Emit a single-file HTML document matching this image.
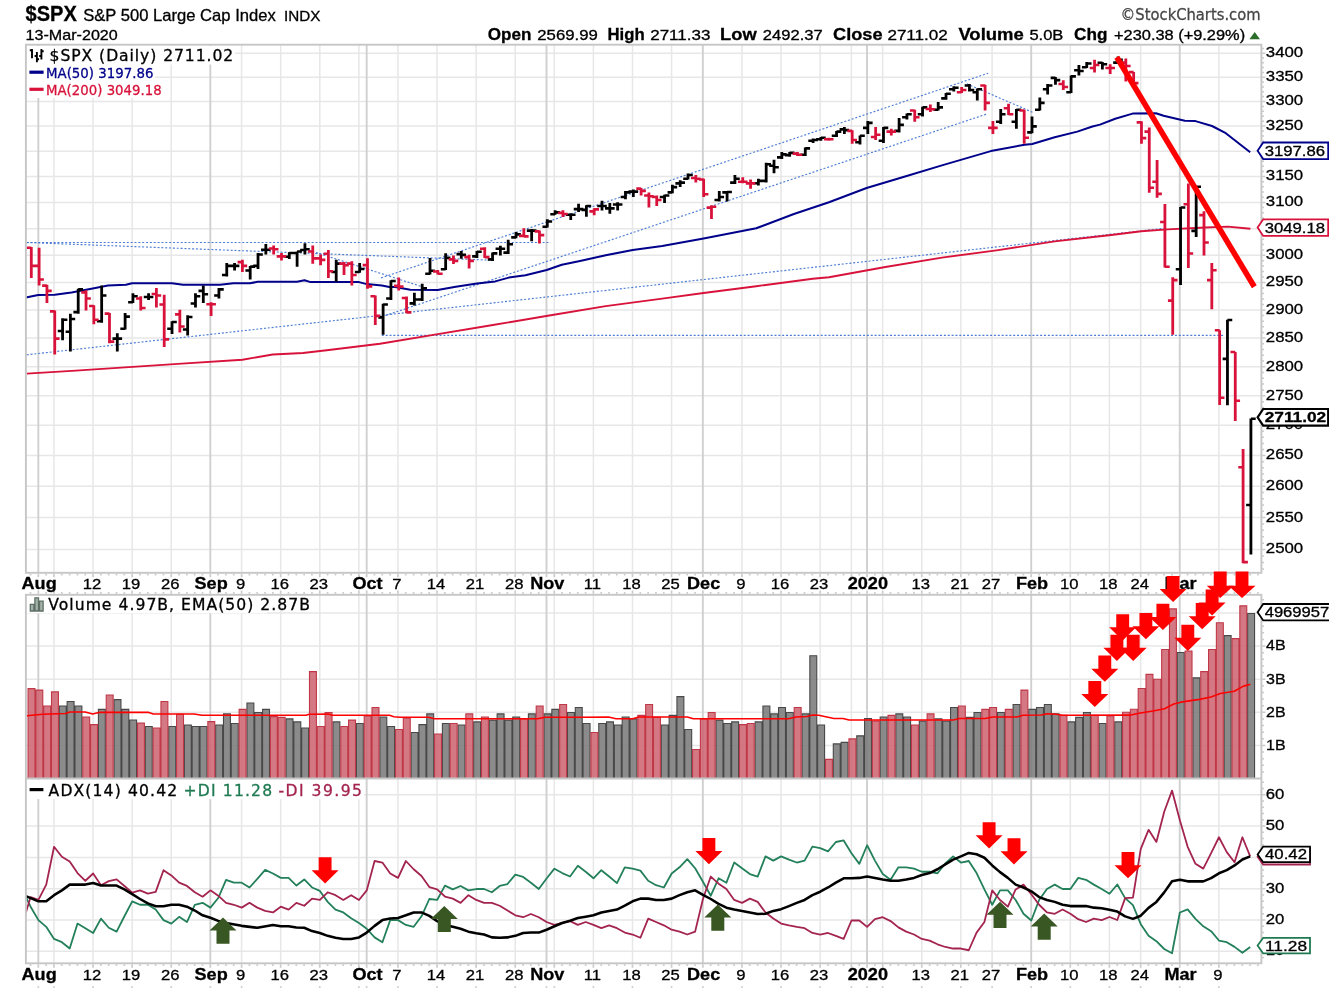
<!DOCTYPE html>
<html lang="en"><head><meta charset="utf-8"><title>$SPX S&amp;P 500 Large Cap Index - StockCharts.com</title>
<style>html,body{margin:0;padding:0;background:#fff}body{width:1329px;height:990px;overflow:hidden}svg{display:block}</style>
</head><body>
<svg width="1329" height="990" viewBox="0 0 1329 990" style="display:block">
<rect width="1329" height="990" fill="#fff"/>
<path d="M25.9 549.58H1261.4M25.9 517.62H1261.4M25.9 486.28H1261.4M25.9 455.53H1261.4M25.9 425.37H1261.4M25.9 395.75H1261.4M25.9 366.67H1261.4M25.9 338.1H1261.4M25.9 310.03H1261.4M25.9 282.44H1261.4M25.9 255.31H1261.4M25.9 228.64H1261.4M25.9 202.39H1261.4M25.9 176.57H1261.4M25.9 151.15H1261.4M25.9 126.12H1261.4M25.9 101.48H1261.4M25.9 77.21H1261.4M25.9 53.3H1261.4" stroke="#e7e7e7" stroke-width="1.5" fill="none"/>
<path d="M53.95 44.7V572.8M93.04 44.7V572.8M132.13 44.7V572.8M171.22 44.7V572.8M241.59 44.7V572.8M280.68 44.7V572.8M319.77 44.7V572.8M358.86 44.7V572.8M397.95 44.7V572.8M437.04 44.7V572.8M476.13 44.7V572.8M515.22 44.7V572.8M554.31 44.7V572.8M593.4 44.7V572.8M632.49 44.7V572.8M671.58 44.7V572.8M741.94 44.7V572.8M781.03 44.7V572.8M820.12 44.7V572.8M851.39 44.7V572.8M882.66 44.7V572.8M921.75 44.7V572.8M960.84 44.7V572.8M992.11 44.7V572.8M1070.29 44.7V572.8M1109.38 44.7V572.8M1140.66 44.7V572.8M1218.84 44.7V572.8" stroke="#e7e7e7" stroke-width="1.5" fill="none"/>
<path d="M38.32 44.7V572.8M210.31 44.7V572.8M366.67 44.7V572.8M546.49 44.7V572.8M702.85 44.7V572.8M867.03 44.7V572.8M1031.2 44.7V572.8M1179.75 44.7V572.8" stroke="#d0d0d0" stroke-width="1.9" fill="none"/>
<rect x="27" y="46" width="208" height="18.5" fill="#fff"/>
<rect x="27" y="64" width="128" height="17" fill="#fff"/>
<rect x="27" y="81" width="136" height="17" fill="#fff"/>
<line x1="26.7" y1="242.5" x2="550.5" y2="242.5" stroke="#3a6fd0" stroke-width="1.15" stroke-dasharray="2 1.85" stroke-opacity="0.9"/>
<line x1="26.7" y1="242.5" x2="494" y2="260.3" stroke="#3a6fd0" stroke-width="1.15" stroke-dasharray="2 1.85" stroke-opacity="0.9"/>
<line x1="26.7" y1="354.8" x2="1163.5" y2="228.4" stroke="#3a6fd0" stroke-width="1.15" stroke-dasharray="2 1.85" stroke-opacity="0.9"/>
<line x1="305" y1="249" x2="423" y2="287" stroke="#3a6fd0" stroke-width="1.15" stroke-dasharray="2 1.85" stroke-opacity="0.9"/>
<line x1="381" y1="277.9" x2="988.2" y2="73.2" stroke="#3a6fd0" stroke-width="1.15" stroke-dasharray="2 1.85" stroke-opacity="0.9"/>
<line x1="381.8" y1="316.7" x2="987.4" y2="113.8" stroke="#3a6fd0" stroke-width="1.15" stroke-dasharray="2 1.85" stroke-opacity="0.9"/>
<line x1="381.8" y1="335.4" x2="1223.7" y2="335.4" stroke="#3a6fd0" stroke-width="1.15" stroke-dasharray="2 1.85" stroke-opacity="0.9"/>
<line x1="967" y1="83.9" x2="1033.6" y2="112.7" stroke="#3a6fd0" stroke-width="1.15" stroke-dasharray="2 1.85" stroke-opacity="0.9"/>
<polyline points="26.7,373.6 75.8,370.6 121.2,367.6 181.8,363.6 242.4,359.7 272.7,354.5 303,353 328.8,350 363.6,345.8 380,343.8 436.4,334.4 492.9,325 549.3,315.5 605.7,306.1 662.2,298.6 703.6,293 756.2,286.2 812.7,278.7 829,277.3 885.4,267 941.9,257.6 998.3,250.1 1054.7,241.4 1111.2,235 1141.3,231.3 1167.6,229.4 1205.2,227.5 1227.8,226.6 1250.4,228.7" fill="none" stroke="#d8123a" stroke-width="1.9" stroke-linejoin="round"/>
<polyline points="26,297.4 38.2,295 54.8,294.7 71.5,292.4 92.7,288.6 107.9,285.6 126,284.8 132,283.3 172,283.3 183,284.8 220,284.8 233.3,283.3 250,283.3 257.6,281.8 297,281.8 304.5,280.3 310.6,282.1 359,282.1 366.7,284.1 381.8,285.6 389.4,287.1 395.2,287 410.3,289.7 437.6,290 455.8,286.7 477,283.6 495.2,281.4 508.8,277.6 525.5,275.3 546.7,270 561.8,264.7 580,260.9 605.7,255.3 632.7,250 662.2,245.9 703.6,238.4 756.2,228.3 793.9,214 829,202.3 866.6,188 904.2,176.7 941.9,165.4 990.8,151.1 1024.6,144.7 1032.2,144 1054.7,137.2 1077.3,131.6 1092.4,126.5 1100,124.6 1115.2,118.8 1132.6,113.6 1156,113.2 1163.6,115.8 1184.8,120.8 1195.5,121.1 1212,126 1225.8,133.2 1250.2,152.2" fill="none" stroke="#00008b" stroke-width="2.0" stroke-linejoin="round"/>
<path d="M61.17 318.18h2.8V340.15h-2.8zM57.77 329.76h4.8v2.6h-4.8zM62.57 318.4h4.8v2.6h-4.8zM68.99 313.64h2.8V351.52h-2.8zM65.59 330.52h4.8v2.6h-4.8zM70.39 317.64h4.8v2.6h-4.8zM76.81 288.64h2.8V313.64h-2.8zM73.41 310.82h4.8v2.6h-4.8zM78.21 288.09h4.8v2.6h-4.8zM100.26 285.61h2.8V322.73h-2.8zM96.86 319.91h4.8v2.6h-4.8zM101.66 294.15h4.8v2.6h-4.8zM115.9 333.33h2.8V351.52h-2.8zM112.5 337.34h4.8v2.6h-4.8zM117.3 337.34h4.8v2.6h-4.8zM123.72 312.88h2.8V329.55h-2.8zM120.32 327.49h4.8v2.6h-4.8zM125.12 315.37h4.8v2.6h-4.8zM131.53 293.18h2.8V303.03h-2.8zM128.13 300.97h4.8v2.6h-4.8zM132.93 294.91h4.8v2.6h-4.8zM147.17 293.18h2.8V300h-2.8zM143.77 295.67h4.8v2.6h-4.8zM148.57 295.67h4.8v2.6h-4.8zM170.62 321.21h2.8V334.09h-2.8zM167.22 327.49h4.8v2.6h-4.8zM172.02 320.67h4.8v2.6h-4.8zM186.26 315.15h2.8V335.61h-2.8zM182.86 328.25h4.8v2.6h-4.8zM187.66 315.67h4.8v2.6h-4.8zM194.08 293.18h2.8V307.58h-2.8zM190.68 302.18h4.8v2.6h-4.8zM195.48 294.91h4.8v2.6h-4.8zM201.9 285.61h2.8V303.03h-2.8zM198.5 289.61h4.8v2.6h-4.8zM203.3 292.94h4.8v2.6h-4.8zM217.53 287.88h2.8V298.48h-2.8zM214.13 294.15h4.8v2.6h-4.8zM218.93 288.09h4.8v2.6h-4.8zM225.35 262.88h2.8V276.52h-2.8zM221.95 273.7h4.8v2.6h-4.8zM226.75 264.61h4.8v2.6h-4.8zM233.17 262.88h2.8V270.45h-2.8zM229.77 264.61h4.8v2.6h-4.8zM234.57 264.61h4.8v2.6h-4.8zM248.8 265.91h2.8V279.55h-2.8zM245.4 269.15h4.8v2.6h-4.8zM250.2 265.37h4.8v2.6h-4.8zM256.62 253.03h2.8V268.94h-2.8zM253.22 264.61h4.8v2.6h-4.8zM258.02 253.25h4.8v2.6h-4.8zM264.44 243.94h2.8V254.55h-2.8zM261.04 248.4h4.8v2.6h-4.8zM265.84 248.4h4.8v2.6h-4.8zM287.89 252.27h2.8V259.09h-2.8zM284.49 255.52h4.8v2.6h-4.8zM289.29 251.73h4.8v2.6h-4.8zM295.71 251.52h2.8V266.67h-2.8zM292.31 251.73h4.8v2.6h-4.8zM297.11 250.22h4.8v2.6h-4.8zM303.53 243.18h2.8V254.55h-2.8zM300.13 248.7h4.8v2.6h-4.8zM304.93 247.94h4.8v2.6h-4.8zM334.8 259.85h2.8V281.82h-2.8zM331.4 270.67h4.8v2.6h-4.8zM336.2 262.34h4.8v2.6h-4.8zM358.26 262.88h2.8V272.73h-2.8zM354.86 270.67h4.8v2.6h-4.8zM359.66 267.64h4.8v2.6h-4.8zM381.71 303.79h2.8V334.85h-2.8zM378.31 316.12h4.8v2.6h-4.8zM383.11 303.25h4.8v2.6h-4.8zM389.53 280.3h2.8V300h-2.8zM386.13 297.18h4.8v2.6h-4.8zM390.93 279.76h4.8v2.6h-4.8zM412.98 292.73h2.8V305.61h-2.8zM409.58 302.03h4.8v2.6h-4.8zM414.38 298.25h4.8v2.6h-4.8zM420.8 283.64h2.8V301.06h-2.8zM417.4 298.25h4.8v2.6h-4.8zM422.2 286.88h4.8v2.6h-4.8zM428.62 257.88h2.8V274.55h-2.8zM425.22 272.49h4.8v2.6h-4.8zM430.02 269.46h4.8v2.6h-4.8zM444.25 253.33h2.8V270h-2.8zM440.85 267.94h4.8v2.6h-4.8zM445.65 256.58h4.8v2.6h-4.8zM459.89 251.06h2.8V258.64h-2.8zM456.49 252.79h4.8v2.6h-4.8zM461.29 253.55h4.8v2.6h-4.8zM475.53 251.06h2.8V257.88h-2.8zM472.13 255.06h4.8v2.6h-4.8zM476.93 250.52h4.8v2.6h-4.8zM491.16 252.58h2.8V260.91h-2.8zM487.76 258.09h4.8v2.6h-4.8zM492.56 252.03h4.8v2.6h-4.8zM498.98 245.76h2.8V255.61h-2.8zM495.58 247.49h4.8v2.6h-4.8zM500.38 247.49h4.8v2.6h-4.8zM506.8 239.7h2.8V254.09h-2.8zM503.4 251.28h4.8v2.6h-4.8zM508.2 242.94h4.8v2.6h-4.8zM514.62 232.12h2.8V238.18h-2.8zM511.22 236.12h4.8v2.6h-4.8zM516.02 233.09h4.8v2.6h-4.8zM530.25 229.09h2.8V241.21h-2.8zM526.85 229.31h4.8v2.6h-4.8zM531.65 229.31h4.8v2.6h-4.8zM545.89 219.24h2.8V227.58h-2.8zM542.49 225.52h4.8v2.6h-4.8zM547.29 220.22h4.8v2.6h-4.8zM553.71 210.15h2.8V214.7h-2.8zM550.31 212.94h4.8v2.6h-4.8zM555.11 211.12h4.8v2.6h-4.8zM569.34 213.18h2.8V220h-2.8zM565.94 213.4h4.8v2.6h-4.8zM570.74 213.4h4.8v2.6h-4.8zM577.16 203.79h2.8V212.12h-2.8zM573.76 207.79h4.8v2.6h-4.8zM578.56 207.79h4.8v2.6h-4.8zM584.98 205.3h2.8V216.67h-2.8zM581.58 208.55h4.8v2.6h-4.8zM586.38 204.76h4.8v2.6h-4.8zM600.61 200.76h2.8V210.61h-2.8zM597.21 204.76h4.8v2.6h-4.8zM602.01 204.76h4.8v2.6h-4.8zM608.43 203.03h2.8V213.64h-2.8zM605.03 207.03h4.8v2.6h-4.8zM609.83 207.03h4.8v2.6h-4.8zM616.25 202.27h2.8V210.61h-2.8zM612.85 203.25h4.8v2.6h-4.8zM617.65 203.25h4.8v2.6h-4.8zM624.07 190.91h2.8V199.24h-2.8zM620.67 195.67h4.8v2.6h-4.8zM625.47 191.12h4.8v2.6h-4.8zM631.89 189.39h2.8V196.97h-2.8zM628.49 190.37h4.8v2.6h-4.8zM633.29 190.37h4.8v2.6h-4.8zM663.16 194.7h2.8V203.03h-2.8zM659.76 195.67h4.8v2.6h-4.8zM664.56 194.15h4.8v2.6h-4.8zM670.98 184.85h2.8V193.18h-2.8zM667.58 191.12h4.8v2.6h-4.8zM672.38 185.82h4.8v2.6h-4.8zM678.79 180.3h2.8V187.12h-2.8zM675.39 182.03h4.8v2.6h-4.8zM680.19 181.28h4.8v2.6h-4.8zM686.61 173.48h2.8V179.55h-2.8zM683.21 177.49h4.8v2.6h-4.8zM688.01 173.7h4.8v2.6h-4.8zM717.88 190.91h2.8V201.52h-2.8zM714.48 198.7h4.8v2.6h-4.8zM719.28 195.67h4.8v2.6h-4.8zM725.7 190.91h2.8V201.52h-2.8zM722.3 191.12h4.8v2.6h-4.8zM727.1 190.67h4.8v2.6h-4.8zM733.52 175h2.8V184.09h-2.8zM730.12 181.28h4.8v2.6h-4.8zM734.92 177.49h4.8v2.6h-4.8zM756.97 178.64h2.8V185.45h-2.8zM753.57 181.88h4.8v2.6h-4.8zM758.37 179.61h4.8v2.6h-4.8zM764.79 162.73h2.8V182.42h-2.8zM761.39 179.61h4.8v2.6h-4.8zM766.19 162.94h4.8v2.6h-4.8zM772.61 159.7h2.8V173.33h-2.8zM769.21 164.46h4.8v2.6h-4.8zM774.01 165.97h4.8v2.6h-4.8zM780.43 152.12h2.8V158.94h-2.8zM777.03 156.12h4.8v2.6h-4.8zM781.83 153.09h4.8v2.6h-4.8zM788.25 152.12h2.8V156.67h-2.8zM784.85 153.85h4.8v2.6h-4.8zM789.65 151.58h4.8v2.6h-4.8zM803.88 147.58h2.8V155.91h-2.8zM800.48 153.4h4.8v2.6h-4.8zM805.28 147.03h4.8v2.6h-4.8zM811.7 138.48h2.8V143.03h-2.8zM808.3 139.46h4.8v2.6h-4.8zM813.1 138.7h4.8v2.6h-4.8zM819.52 136.97h2.8V140.76h-2.8zM816.12 137.94h4.8v2.6h-4.8zM820.92 136.43h4.8v2.6h-4.8zM835.15 130.91h2.8V136.97h-2.8zM831.75 134.46h4.8v2.6h-4.8zM836.55 130.37h4.8v2.6h-4.8zM842.97 127.12h2.8V133.94h-2.8zM839.57 128.09h4.8v2.6h-4.8zM844.37 128.85h4.8v2.6h-4.8zM858.61 135.45h2.8V144.55h-2.8zM855.21 140.97h4.8v2.6h-4.8zM860.01 134.46h4.8v2.6h-4.8zM866.43 121.06h2.8V133.94h-2.8zM863.03 126.58h4.8v2.6h-4.8zM867.83 121.58h4.8v2.6h-4.8zM882.06 127.12h2.8V143.03h-2.8zM878.66 139.46h4.8v2.6h-4.8zM883.46 126.58h4.8v2.6h-4.8zM897.7 118.03h2.8V132.42h-2.8zM894.3 129.61h4.8v2.6h-4.8zM899.1 123.55h4.8v2.6h-4.8zM905.52 113.48h2.8V119.55h-2.8zM902.12 115.97h4.8v2.6h-4.8zM906.92 112.94h4.8v2.6h-4.8zM921.15 106.67h2.8V116.52h-2.8zM917.75 112.94h4.8v2.6h-4.8zM922.55 106.12h4.8v2.6h-4.8zM936.79 102.12h2.8V110.45h-2.8zM933.39 108.4h4.8v2.6h-4.8zM938.19 106.12h4.8v2.6h-4.8zM944.61 93.03h2.8V99.85h-2.8zM941.21 97.03h4.8v2.6h-4.8zM946.01 92.49h4.8v2.6h-4.8zM952.42 86.21h2.8V91.52h-2.8zM949.02 87.94h4.8v2.6h-4.8zM953.82 86.43h4.8v2.6h-4.8zM968.06 83.94h2.8V91.52h-2.8zM964.66 84.15h4.8v2.6h-4.8zM969.46 88.7h4.8v2.6h-4.8zM975.88 88.48h2.8V100.61h-2.8zM972.48 90.97h4.8v2.6h-4.8zM977.28 87.94h4.8v2.6h-4.8zM999.33 108.94h2.8V124.09h-2.8zM995.93 120.52h4.8v2.6h-4.8zM1000.73 112.94h4.8v2.6h-4.8zM1014.97 108.94h2.8V128.64h-2.8zM1011.57 120.52h4.8v2.6h-4.8zM1016.37 108.4h4.8v2.6h-4.8zM1030.6 116.52h2.8V133.18h-2.8zM1027.2 131.12h4.8v2.6h-4.8zM1032 125.06h4.8v2.6h-4.8zM1038.42 97.58h2.8V110.45h-2.8zM1035.02 108.4h4.8v2.6h-4.8zM1039.82 101.58h4.8v2.6h-4.8zM1046.24 83.94h2.8V94.55h-2.8zM1042.84 87.94h4.8v2.6h-4.8zM1047.64 84.15h4.8v2.6h-4.8zM1054.06 77.12h2.8V84.7h-2.8zM1050.66 76.58h4.8v2.6h-4.8zM1055.46 78.85h4.8v2.6h-4.8zM1069.69 75.61h2.8V93.03h-2.8zM1066.29 90.97h4.8v2.6h-4.8zM1071.09 75.06h4.8v2.6h-4.8zM1077.51 65h2.8V75.61h-2.8zM1074.11 69h4.8v2.6h-4.8zM1078.91 69.76h4.8v2.6h-4.8zM1085.33 61.97h2.8V68.03h-2.8zM1081.93 65.97h4.8v2.6h-4.8zM1086.73 62.18h4.8v2.6h-4.8zM1100.97 61.97h2.8V69.55h-2.8zM1097.57 61.43h4.8v2.6h-4.8zM1102.37 62.94h4.8v2.6h-4.8zM1116.6 56.38h2.8V63.38h-2.8zM1113.2 61.34h4.8v2.6h-4.8zM1118 58.59h4.8v2.6h-4.8zM1179.15 207.1h2.8V285.07h-2.8zM1175.75 267.91h4.8v2.6h-4.8zM1180.55 206.19h4.8v2.6h-4.8zM1194.78 186.35h2.8V236.92h-2.8zM1191.38 229.59h4.8v2.6h-4.8zM1196.18 185.48h4.8v2.6h-4.8zM1226.05 319.75h2.8V405.17h-2.8zM1222.65 357.62h4.8v2.6h-4.8zM1227.45 318.65h4.8v2.6h-4.8zM1249.51 418.61h2.8V554.51h-2.8zM1246.11 503.72h4.8v2.6h-4.8zM1250.91 417.49h4.8v2.6h-4.8z" fill="#000000"/>
<path d="M29.9 246.97h2.8V278.03h-2.8zM26.5 246.43h4.8v2.6h-4.8zM31.3 264.61h4.8v2.6h-4.8zM37.72 247.73h2.8V285.61h-2.8zM34.32 264.61h4.8v2.6h-4.8zM39.12 278.25h4.8v2.6h-4.8zM45.54 284.85h2.8V303.03h-2.8zM42.14 284.31h4.8v2.6h-4.8zM46.94 289.61h4.8v2.6h-4.8zM53.35 310.61h2.8V354.55h-2.8zM49.95 310.06h4.8v2.6h-4.8zM54.75 337.34h4.8v2.6h-4.8zM84.63 290.15h2.8V310.61h-2.8zM81.23 291.12h4.8v2.6h-4.8zM86.03 297.18h4.8v2.6h-4.8zM92.44 305.3h2.8V324.24h-2.8zM89.04 304.76h4.8v2.6h-4.8zM93.84 318.4h4.8v2.6h-4.8zM108.08 312.88h2.8V343.18h-2.8zM104.68 312.34h4.8v2.6h-4.8zM109.48 340.37h4.8v2.6h-4.8zM139.35 296.21h2.8V310.61h-2.8zM135.95 297.18h4.8v2.6h-4.8zM140.75 306.73h4.8v2.6h-4.8zM154.99 287.88h2.8V307.58h-2.8zM151.59 292.64h4.8v2.6h-4.8zM156.39 294.15h4.8v2.6h-4.8zM162.81 294.7h2.8V346.97h-2.8zM159.41 303.25h4.8v2.6h-4.8zM164.21 338.09h4.8v2.6h-4.8zM178.44 309.85h2.8V332.58h-2.8zM175.04 313.09h4.8v2.6h-4.8zM179.84 325.22h4.8v2.6h-4.8zM209.71 302.27h2.8V315.91h-2.8zM206.31 302.94h4.8v2.6h-4.8zM211.11 302.94h4.8v2.6h-4.8zM240.99 259.85h2.8V271.97h-2.8zM237.59 260.82h4.8v2.6h-4.8zM242.39 264.61h4.8v2.6h-4.8zM272.26 245.45h2.8V254.55h-2.8zM268.86 247.18h4.8v2.6h-4.8zM273.66 247.94h4.8v2.6h-4.8zM280.08 253.03h2.8V260.61h-2.8zM276.68 255.06h4.8v2.6h-4.8zM281.48 255.06h4.8v2.6h-4.8zM311.35 245.45h2.8V263.64h-2.8zM307.95 250.22h4.8v2.6h-4.8zM312.75 257.03h4.8v2.6h-4.8zM319.17 254.55h2.8V265.15h-2.8zM315.77 257.03h4.8v2.6h-4.8zM320.57 258.55h4.8v2.6h-4.8zM326.98 250h2.8V278.03h-2.8zM323.58 252.49h4.8v2.6h-4.8zM328.38 269.91h4.8v2.6h-4.8zM342.62 262.12h2.8V275h-2.8zM339.22 262.34h4.8v2.6h-4.8zM344.02 263.85h4.8v2.6h-4.8zM350.44 261.36h2.8V285.61h-2.8zM347.04 262.34h4.8v2.6h-4.8zM351.84 273.7h4.8v2.6h-4.8zM366.07 258.33h2.8V288.64h-2.8zM362.67 263.85h4.8v2.6h-4.8zM367.47 285.06h4.8v2.6h-4.8zM373.89 295.45h2.8V325h-2.8zM370.49 294.91h4.8v2.6h-4.8zM375.29 314.61h4.8v2.6h-4.8zM397.35 277.58h2.8V290.45h-2.8zM393.95 284.61h4.8v2.6h-4.8zM398.75 285.37h4.8v2.6h-4.8zM405.16 296.52h2.8V313.18h-2.8zM401.76 296.73h4.8v2.6h-4.8zM406.56 311.12h4.8v2.6h-4.8zM436.44 270h2.8V274.55h-2.8zM433.04 270.22h4.8v2.6h-4.8zM437.84 272.49h4.8v2.6h-4.8zM452.07 255.61h2.8V263.94h-2.8zM448.67 258.09h4.8v2.6h-4.8zM453.47 259.61h4.8v2.6h-4.8zM467.71 254.85h2.8V268.48h-2.8zM464.31 255.82h4.8v2.6h-4.8zM469.11 259.61h4.8v2.6h-4.8zM483.34 247.27h2.8V257.88h-2.8zM479.94 247.49h4.8v2.6h-4.8zM484.74 255.82h4.8v2.6h-4.8zM522.43 228.33h2.8V236.67h-2.8zM519.03 234.61h4.8v2.6h-4.8zM523.83 235.06h4.8v2.6h-4.8zM538.07 230.61h2.8V243.48h-2.8zM534.67 230.06h4.8v2.6h-4.8zM539.47 233.85h4.8v2.6h-4.8zM561.52 210.15h2.8V216.97h-2.8zM558.12 211.58h4.8v2.6h-4.8zM562.92 212.64h4.8v2.6h-4.8zM592.8 208.33h2.8V215.15h-2.8zM589.4 210.06h4.8v2.6h-4.8zM594.2 208.09h4.8v2.6h-4.8zM639.7 187.88h2.8V195.45h-2.8zM636.3 187.34h4.8v2.6h-4.8zM641.1 189.61h4.8v2.6h-4.8zM647.52 192.42h2.8V207.58h-2.8zM644.12 194.15h4.8v2.6h-4.8zM648.92 194.91h4.8v2.6h-4.8zM655.34 195.45h2.8V206.06h-2.8zM651.94 195.67h4.8v2.6h-4.8zM656.74 198.7h4.8v2.6h-4.8zM694.43 175h2.8V182.58h-2.8zM691.03 176.73h4.8v2.6h-4.8zM695.83 177.49h4.8v2.6h-4.8zM702.25 178.79h2.8V196.97h-2.8zM698.85 178.25h4.8v2.6h-4.8zM703.65 192.94h4.8v2.6h-4.8zM710.07 205.3h2.8V218.94h-2.8zM706.67 206.28h4.8v2.6h-4.8zM711.47 205.52h4.8v2.6h-4.8zM741.34 177.27h2.8V183.33h-2.8zM737.94 180.52h4.8v2.6h-4.8zM742.74 180.52h4.8v2.6h-4.8zM749.16 179.55h2.8V188.64h-2.8zM745.76 182.03h4.8v2.6h-4.8zM750.56 182.03h4.8v2.6h-4.8zM796.06 152.12h2.8V155.91h-2.8zM792.66 152.34h4.8v2.6h-4.8zM797.46 153.4h4.8v2.6h-4.8zM827.34 137.73h2.8V140.76h-2.8zM823.94 137.94h4.8v2.6h-4.8zM828.74 137.94h4.8v2.6h-4.8zM850.79 130.15h2.8V143.79h-2.8zM847.39 129.61h4.8v2.6h-4.8zM852.19 138.7h4.8v2.6h-4.8zM874.24 127.12h2.8V140h-2.8zM870.84 135.67h4.8v2.6h-4.8zM875.64 133.4h4.8v2.6h-4.8zM889.88 128.64h2.8V135.45h-2.8zM886.48 130.37h4.8v2.6h-4.8zM891.28 130.37h4.8v2.6h-4.8zM913.33 109.7h2.8V121.82h-2.8zM909.93 109.15h4.8v2.6h-4.8zM914.73 115.97h4.8v2.6h-4.8zM928.97 104.39h2.8V111.97h-2.8zM925.57 107.64h4.8v2.6h-4.8zM930.37 107.94h4.8v2.6h-4.8zM960.24 86.97h2.8V93.03h-2.8zM956.84 90.97h4.8v2.6h-4.8zM961.64 88.7h4.8v2.6h-4.8zM983.7 84.7h2.8V110.45h-2.8zM980.3 84.15h4.8v2.6h-4.8zM985.1 101.58h4.8v2.6h-4.8zM991.51 121.06h2.8V133.94h-2.8zM988.11 126.58h4.8v2.6h-4.8zM992.91 126.58h4.8v2.6h-4.8zM1007.15 103.64h2.8V115h-2.8zM1003.75 106.88h4.8v2.6h-4.8zM1008.55 112.94h4.8v2.6h-4.8zM1022.79 109.7h2.8V143.79h-2.8zM1019.39 109.15h4.8v2.6h-4.8zM1024.19 136.43h4.8v2.6h-4.8zM1061.88 80.15h2.8V90h-2.8zM1058.48 82.64h4.8v2.6h-4.8zM1063.28 85.67h4.8v2.6h-4.8zM1093.15 59.7h2.8V72.58h-2.8zM1089.75 66.73h4.8v2.6h-4.8zM1094.55 63.7h4.8v2.6h-4.8zM1108.78 64.24h2.8V74.09h-2.8zM1105.38 66.73h4.8v2.6h-4.8zM1110.18 66.73h4.8v2.6h-4.8zM1124.42 58.46h2.8V81.54h-2.8zM1121.02 61.31h4.8v2.6h-4.8zM1125.82 64.76h4.8v2.6h-4.8zM1132.24 72.04h2.8V87.63h-2.8zM1128.84 70.86h4.8v2.6h-4.8zM1133.64 81.82h4.8v2.6h-4.8zM1140.06 121.26h2.8V143.78h-2.8zM1136.66 121.05h4.8v2.6h-4.8zM1141.46 136.84h4.8v2.6h-4.8zM1147.87 127.62h2.8V192.65h-2.8zM1144.47 130.33h4.8v2.6h-4.8zM1149.27 186.47h4.8v2.6h-4.8zM1155.69 159.99h2.8V197.72h-2.8zM1152.29 180.45h4.8v2.6h-4.8zM1157.09 192.58h4.8v2.6h-4.8zM1163.51 203.92h2.8V267.52h-2.8zM1160.11 220.71h4.8v2.6h-4.8zM1164.91 265.48h4.8v2.6h-4.8zM1171.33 277.13h2.8V334.8h-2.8zM1167.93 299.35h4.8v2.6h-4.8zM1172.73 278.83h4.8v2.6h-4.8zM1186.96 183.38h2.8V267.94h-2.8zM1183.56 202.93h4.8v2.6h-4.8zM1188.36 252.2h4.8v2.6h-4.8zM1202.6 211.24h2.8V255.4h-2.8zM1199.2 213.79h4.8v2.6h-4.8zM1204 241.18h4.8v2.6h-4.8zM1210.42 262.9h2.8V309.17h-2.8zM1207.02 278.84h4.8v2.6h-4.8zM1211.82 268.95h4.8v2.6h-4.8zM1218.24 330.25h2.8V404.91h-2.8zM1214.84 328.95h4.8v2.6h-4.8zM1219.64 396.47h4.8v2.6h-4.8zM1233.87 351.98h2.8V421.05h-2.8zM1230.47 350.68h4.8v2.6h-4.8zM1235.27 399.52h4.8v2.6h-4.8zM1241.69 448.88h2.8V563.29h-2.8zM1238.29 465.93h4.8v2.6h-4.8zM1243.09 560.83h4.8v2.6h-4.8z" fill="#d8123a"/>
<line x1="1116.8" y1="57.2" x2="1254.3" y2="286.8" stroke="#ff0000" stroke-width="5.6"/>
<rect x="25.9" y="44.7" width="1235.5" height="528.1" fill="none" stroke="#c6c6c6" stroke-width="1.9"/>
<path d="M1261.4 569.07h2.6M1261.4 562.54h2.6M1261.4 556.05h2.6M1261.4 543.14h2.6M1261.4 536.72h2.6M1261.4 530.33h2.6M1261.4 523.96h2.6M1261.4 511.3h2.6M1261.4 505.01h2.6M1261.4 498.74h2.6M1261.4 492.5h2.6M1261.4 480.08h2.6M1261.4 473.91h2.6M1261.4 467.76h2.6M1261.4 461.64h2.6M1261.4 449.46h2.6M1261.4 443.4h2.6M1261.4 437.37h2.6M1261.4 431.35h2.6M1261.4 419.4h2.6M1261.4 413.45h2.6M1261.4 407.53h2.6M1261.4 401.63h2.6M1261.4 389.89h2.6M1261.4 384.05h2.6M1261.4 378.24h2.6M1261.4 372.44h2.6M1261.4 360.91h2.6M1261.4 355.18h2.6M1261.4 349.47h2.6M1261.4 343.77h2.6M1261.4 332.45h2.6M1261.4 326.81h2.6M1261.4 321.2h2.6M1261.4 315.61h2.6M1261.4 304.47h2.6M1261.4 298.94h2.6M1261.4 293.42h2.6M1261.4 287.92h2.6M1261.4 276.98h2.6M1261.4 271.53h2.6M1261.4 266.11h2.6M1261.4 260.7h2.6M1261.4 249.94h2.6M1261.4 244.59h2.6M1261.4 239.25h2.6M1261.4 233.94h2.6M1261.4 223.35h2.6M1261.4 218.09h2.6M1261.4 212.84h2.6M1261.4 207.61h2.6M1261.4 197.19h2.6M1261.4 192.01h2.6M1261.4 186.85h2.6M1261.4 181.7h2.6M1261.4 171.45h2.6M1261.4 166.35h2.6M1261.4 161.27h2.6M1261.4 156.2h2.6M1261.4 146.11h2.6M1261.4 141.09h2.6M1261.4 136.09h2.6M1261.4 131.1h2.6M1261.4 121.17h2.6M1261.4 116.22h2.6M1261.4 111.29h2.6M1261.4 106.38h2.6M1261.4 96.6h2.6M1261.4 91.73h2.6M1261.4 86.88h2.6M1261.4 82.04h2.6M1261.4 72.4h2.6M1261.4 67.6h2.6M1261.4 62.82h2.6M1261.4 58.05h2.6M1261.4 48.56h2.6M1261.4 549.58h4M1261.4 517.62h4M1261.4 486.28h4M1261.4 455.53h4M1261.4 425.37h4M1261.4 395.75h4M1261.4 366.67h4M1261.4 338.1h4M1261.4 310.03h4M1261.4 282.44h4M1261.4 255.31h4M1261.4 228.64h4M1261.4 202.39h4M1261.4 176.57h4M1261.4 151.15h4M1261.4 126.12h4M1261.4 101.48h4M1261.4 77.21h4M1261.4 53.3h4" stroke="#cacaca" stroke-width="1.5" fill="none"/>
<path d="M30.5 573.8v1.8M38.32 573.8v3.4M46.14 573.8v1.8M53.95 573.8v3.4M61.77 573.8v1.8M69.59 573.8v1.8M77.41 573.8v1.8M85.23 573.8v1.8M93.04 573.8v3.4M100.86 573.8v1.8M108.68 573.8v1.8M116.5 573.8v1.8M124.32 573.8v1.8M132.13 573.8v3.4M139.95 573.8v1.8M147.77 573.8v1.8M155.59 573.8v1.8M163.41 573.8v1.8M171.22 573.8v3.4M179.04 573.8v1.8M186.86 573.8v1.8M194.68 573.8v1.8M202.5 573.8v1.8M210.31 573.8v3.4M218.13 573.8v1.8M225.95 573.8v1.8M233.77 573.8v1.8M241.59 573.8v3.4M249.4 573.8v1.8M257.22 573.8v1.8M265.04 573.8v1.8M272.86 573.8v1.8M280.68 573.8v3.4M288.49 573.8v1.8M296.31 573.8v1.8M304.13 573.8v1.8M311.95 573.8v1.8M319.77 573.8v3.4M327.58 573.8v1.8M335.4 573.8v1.8M343.22 573.8v1.8M351.04 573.8v1.8M358.86 573.8v3.4M366.67 573.8v3.4M374.49 573.8v1.8M382.31 573.8v1.8M390.13 573.8v1.8M397.95 573.8v3.4M405.76 573.8v1.8M413.58 573.8v1.8M421.4 573.8v1.8M429.22 573.8v1.8M437.04 573.8v3.4M444.85 573.8v1.8M452.67 573.8v1.8M460.49 573.8v1.8M468.31 573.8v1.8M476.13 573.8v3.4M483.94 573.8v1.8M491.76 573.8v1.8M499.58 573.8v1.8M507.4 573.8v1.8M515.22 573.8v3.4M523.03 573.8v1.8M530.85 573.8v1.8M538.67 573.8v1.8M546.49 573.8v3.4M554.31 573.8v3.4M562.12 573.8v1.8M569.94 573.8v1.8M577.76 573.8v1.8M585.58 573.8v1.8M593.4 573.8v3.4M601.21 573.8v1.8M609.03 573.8v1.8M616.85 573.8v1.8M624.67 573.8v1.8M632.49 573.8v3.4M640.3 573.8v1.8M648.12 573.8v1.8M655.94 573.8v1.8M663.76 573.8v1.8M671.58 573.8v3.4M679.39 573.8v1.8M687.21 573.8v1.8M695.03 573.8v1.8M702.85 573.8v3.4M710.67 573.8v1.8M718.48 573.8v1.8M726.3 573.8v1.8M734.12 573.8v1.8M741.94 573.8v3.4M749.76 573.8v1.8M757.57 573.8v1.8M765.39 573.8v1.8M773.21 573.8v1.8M781.03 573.8v3.4M788.85 573.8v1.8M796.66 573.8v1.8M804.48 573.8v1.8M812.3 573.8v1.8M820.12 573.8v3.4M827.94 573.8v1.8M835.75 573.8v1.8M843.57 573.8v1.8M851.39 573.8v3.4M859.21 573.8v1.8M867.03 573.8v3.4M874.84 573.8v1.8M882.66 573.8v3.4M890.48 573.8v1.8M898.3 573.8v1.8M906.12 573.8v1.8M913.93 573.8v1.8M921.75 573.8v3.4M929.57 573.8v1.8M937.39 573.8v1.8M945.21 573.8v1.8M953.02 573.8v1.8M960.84 573.8v3.4M968.66 573.8v1.8M976.48 573.8v1.8M984.3 573.8v1.8M992.11 573.8v3.4M999.93 573.8v1.8M1007.75 573.8v1.8M1015.57 573.8v1.8M1023.39 573.8v1.8M1031.2 573.8v3.4M1039.02 573.8v1.8M1046.84 573.8v1.8M1054.66 573.8v1.8M1062.48 573.8v1.8M1070.29 573.8v3.4M1078.11 573.8v1.8M1085.93 573.8v1.8M1093.75 573.8v1.8M1101.57 573.8v1.8M1109.38 573.8v3.4M1117.2 573.8v1.8M1125.02 573.8v1.8M1132.84 573.8v1.8M1140.66 573.8v3.4M1148.47 573.8v1.8M1156.29 573.8v1.8M1164.11 573.8v1.8M1171.93 573.8v1.8M1179.75 573.8v3.4M1187.56 573.8v1.8M1195.38 573.8v1.8M1203.2 573.8v1.8M1211.02 573.8v1.8M1218.84 573.8v3.4M1226.65 573.8v1.8M1234.47 573.8v1.8M1242.29 573.8v1.8M1250.11 573.8v1.8M1257.93 573.8v1.8" stroke="#cccccc" stroke-width="1.7" fill="none"/>
<path d="M30.5 593.8v-1.8M38.32 593.8v-3.4M46.14 593.8v-1.8M53.95 593.8v-3.4M61.77 593.8v-1.8M69.59 593.8v-1.8M77.41 593.8v-1.8M85.23 593.8v-1.8M93.04 593.8v-3.4M100.86 593.8v-1.8M108.68 593.8v-1.8M116.5 593.8v-1.8M124.32 593.8v-1.8M132.13 593.8v-3.4M139.95 593.8v-1.8M147.77 593.8v-1.8M155.59 593.8v-1.8M163.41 593.8v-1.8M171.22 593.8v-3.4M179.04 593.8v-1.8M186.86 593.8v-1.8M194.68 593.8v-1.8M202.5 593.8v-1.8M210.31 593.8v-3.4M218.13 593.8v-1.8M225.95 593.8v-1.8M233.77 593.8v-1.8M241.59 593.8v-3.4M249.4 593.8v-1.8M257.22 593.8v-1.8M265.04 593.8v-1.8M272.86 593.8v-1.8M280.68 593.8v-3.4M288.49 593.8v-1.8M296.31 593.8v-1.8M304.13 593.8v-1.8M311.95 593.8v-1.8M319.77 593.8v-3.4M327.58 593.8v-1.8M335.4 593.8v-1.8M343.22 593.8v-1.8M351.04 593.8v-1.8M358.86 593.8v-3.4M366.67 593.8v-3.4M374.49 593.8v-1.8M382.31 593.8v-1.8M390.13 593.8v-1.8M397.95 593.8v-3.4M405.76 593.8v-1.8M413.58 593.8v-1.8M421.4 593.8v-1.8M429.22 593.8v-1.8M437.04 593.8v-3.4M444.85 593.8v-1.8M452.67 593.8v-1.8M460.49 593.8v-1.8M468.31 593.8v-1.8M476.13 593.8v-3.4M483.94 593.8v-1.8M491.76 593.8v-1.8M499.58 593.8v-1.8M507.4 593.8v-1.8M515.22 593.8v-3.4M523.03 593.8v-1.8M530.85 593.8v-1.8M538.67 593.8v-1.8M546.49 593.8v-3.4M554.31 593.8v-3.4M562.12 593.8v-1.8M569.94 593.8v-1.8M577.76 593.8v-1.8M585.58 593.8v-1.8M593.4 593.8v-3.4M601.21 593.8v-1.8M609.03 593.8v-1.8M616.85 593.8v-1.8M624.67 593.8v-1.8M632.49 593.8v-3.4M640.3 593.8v-1.8M648.12 593.8v-1.8M655.94 593.8v-1.8M663.76 593.8v-1.8M671.58 593.8v-3.4M679.39 593.8v-1.8M687.21 593.8v-1.8M695.03 593.8v-1.8M702.85 593.8v-3.4M710.67 593.8v-1.8M718.48 593.8v-1.8M726.3 593.8v-1.8M734.12 593.8v-1.8M741.94 593.8v-3.4M749.76 593.8v-1.8M757.57 593.8v-1.8M765.39 593.8v-1.8M773.21 593.8v-1.8M781.03 593.8v-3.4M788.85 593.8v-1.8M796.66 593.8v-1.8M804.48 593.8v-1.8M812.3 593.8v-1.8M820.12 593.8v-3.4M827.94 593.8v-1.8M835.75 593.8v-1.8M843.57 593.8v-1.8M851.39 593.8v-3.4M859.21 593.8v-1.8M867.03 593.8v-3.4M874.84 593.8v-1.8M882.66 593.8v-3.4M890.48 593.8v-1.8M898.3 593.8v-1.8M906.12 593.8v-1.8M913.93 593.8v-1.8M921.75 593.8v-3.4M929.57 593.8v-1.8M937.39 593.8v-1.8M945.21 593.8v-1.8M953.02 593.8v-1.8M960.84 593.8v-3.4M968.66 593.8v-1.8M976.48 593.8v-1.8M984.3 593.8v-1.8M992.11 593.8v-3.4M999.93 593.8v-1.8M1007.75 593.8v-1.8M1015.57 593.8v-1.8M1023.39 593.8v-1.8M1031.2 593.8v-3.4M1039.02 593.8v-1.8M1046.84 593.8v-1.8M1054.66 593.8v-1.8M1062.48 593.8v-1.8M1070.29 593.8v-3.4M1078.11 593.8v-1.8M1085.93 593.8v-1.8M1093.75 593.8v-1.8M1101.57 593.8v-1.8M1109.38 593.8v-3.4M1117.2 593.8v-1.8M1125.02 593.8v-1.8M1132.84 593.8v-1.8M1140.66 593.8v-3.4M1148.47 593.8v-1.8M1156.29 593.8v-1.8M1164.11 593.8v-1.8M1171.93 593.8v-1.8M1179.75 593.8v-3.4M1187.56 593.8v-1.8M1195.38 593.8v-1.8M1203.2 593.8v-1.8M1211.02 593.8v-1.8M1218.84 593.8v-3.4M1226.65 593.8v-1.8M1234.47 593.8v-1.8M1242.29 593.8v-1.8M1250.11 593.8v-1.8M1257.93 593.8v-1.8" stroke="#cccccc" stroke-width="1.7" fill="none"/>
<path d="M30.5 964.3v1.8M38.32 964.3v3.4M46.14 964.3v1.8M53.95 964.3v3.4M61.77 964.3v1.8M69.59 964.3v1.8M77.41 964.3v1.8M85.23 964.3v1.8M93.04 964.3v3.4M100.86 964.3v1.8M108.68 964.3v1.8M116.5 964.3v1.8M124.32 964.3v1.8M132.13 964.3v3.4M139.95 964.3v1.8M147.77 964.3v1.8M155.59 964.3v1.8M163.41 964.3v1.8M171.22 964.3v3.4M179.04 964.3v1.8M186.86 964.3v1.8M194.68 964.3v1.8M202.5 964.3v1.8M210.31 964.3v3.4M218.13 964.3v1.8M225.95 964.3v1.8M233.77 964.3v1.8M241.59 964.3v3.4M249.4 964.3v1.8M257.22 964.3v1.8M265.04 964.3v1.8M272.86 964.3v1.8M280.68 964.3v3.4M288.49 964.3v1.8M296.31 964.3v1.8M304.13 964.3v1.8M311.95 964.3v1.8M319.77 964.3v3.4M327.58 964.3v1.8M335.4 964.3v1.8M343.22 964.3v1.8M351.04 964.3v1.8M358.86 964.3v3.4M366.67 964.3v3.4M374.49 964.3v1.8M382.31 964.3v1.8M390.13 964.3v1.8M397.95 964.3v3.4M405.76 964.3v1.8M413.58 964.3v1.8M421.4 964.3v1.8M429.22 964.3v1.8M437.04 964.3v3.4M444.85 964.3v1.8M452.67 964.3v1.8M460.49 964.3v1.8M468.31 964.3v1.8M476.13 964.3v3.4M483.94 964.3v1.8M491.76 964.3v1.8M499.58 964.3v1.8M507.4 964.3v1.8M515.22 964.3v3.4M523.03 964.3v1.8M530.85 964.3v1.8M538.67 964.3v1.8M546.49 964.3v3.4M554.31 964.3v3.4M562.12 964.3v1.8M569.94 964.3v1.8M577.76 964.3v1.8M585.58 964.3v1.8M593.4 964.3v3.4M601.21 964.3v1.8M609.03 964.3v1.8M616.85 964.3v1.8M624.67 964.3v1.8M632.49 964.3v3.4M640.3 964.3v1.8M648.12 964.3v1.8M655.94 964.3v1.8M663.76 964.3v1.8M671.58 964.3v3.4M679.39 964.3v1.8M687.21 964.3v1.8M695.03 964.3v1.8M702.85 964.3v3.4M710.67 964.3v1.8M718.48 964.3v1.8M726.3 964.3v1.8M734.12 964.3v1.8M741.94 964.3v3.4M749.76 964.3v1.8M757.57 964.3v1.8M765.39 964.3v1.8M773.21 964.3v1.8M781.03 964.3v3.4M788.85 964.3v1.8M796.66 964.3v1.8M804.48 964.3v1.8M812.3 964.3v1.8M820.12 964.3v3.4M827.94 964.3v1.8M835.75 964.3v1.8M843.57 964.3v1.8M851.39 964.3v3.4M859.21 964.3v1.8M867.03 964.3v3.4M874.84 964.3v1.8M882.66 964.3v3.4M890.48 964.3v1.8M898.3 964.3v1.8M906.12 964.3v1.8M913.93 964.3v1.8M921.75 964.3v3.4M929.57 964.3v1.8M937.39 964.3v1.8M945.21 964.3v1.8M953.02 964.3v1.8M960.84 964.3v3.4M968.66 964.3v1.8M976.48 964.3v1.8M984.3 964.3v1.8M992.11 964.3v3.4M999.93 964.3v1.8M1007.75 964.3v1.8M1015.57 964.3v1.8M1023.39 964.3v1.8M1031.2 964.3v3.4M1039.02 964.3v1.8M1046.84 964.3v1.8M1054.66 964.3v1.8M1062.48 964.3v1.8M1070.29 964.3v3.4M1078.11 964.3v1.8M1085.93 964.3v1.8M1093.75 964.3v1.8M1101.57 964.3v1.8M1109.38 964.3v3.4M1117.2 964.3v1.8M1125.02 964.3v1.8M1132.84 964.3v1.8M1140.66 964.3v3.4M1148.47 964.3v1.8M1156.29 964.3v1.8M1164.11 964.3v1.8M1171.93 964.3v1.8M1179.75 964.3v3.4M1187.56 964.3v1.8M1195.38 964.3v1.8M1203.2 964.3v1.8M1211.02 964.3v1.8M1218.84 964.3v3.4M1226.65 964.3v1.8M1234.47 964.3v1.8M1242.29 964.3v1.8M1250.11 964.3v1.8M1257.93 964.3v1.8" stroke="#cccccc" stroke-width="1.7" fill="none"/>
<path d="M53.95 986v2M93.04 986v2M132.13 986v2M171.22 986v2M241.59 986v2M280.68 986v2M319.77 986v2M358.86 986v2M397.95 986v2M437.04 986v2M476.13 986v2M515.22 986v2M554.31 986v2M593.4 986v2M632.49 986v2M671.58 986v2M741.94 986v2M781.03 986v2M820.12 986v2M851.39 986v2M882.66 986v2M921.75 986v2M960.84 986v2M992.11 986v2M1070.29 986v2M1109.38 986v2M1140.66 986v2M1218.84 986v2M38.32 986v2M210.31 986v2M366.67 986v2M546.49 986v2M702.85 986v2M867.03 986v2M1031.2 986v2M1179.75 986v2" stroke="#d0d0d0" stroke-width="1.6" fill="none"/>
<text x="1265.8" y="553.48" font-family="'Liberation Sans',Arial,sans-serif" font-size="15" font-weight="normal" fill="#000" stroke="#000" stroke-width="0.3" text-anchor="start" textLength="37.4" lengthAdjust="spacingAndGlyphs">2500</text>
<text x="1265.8" y="521.52" font-family="'Liberation Sans',Arial,sans-serif" font-size="15" font-weight="normal" fill="#000" stroke="#000" stroke-width="0.3" text-anchor="start" textLength="37.4" lengthAdjust="spacingAndGlyphs">2550</text>
<text x="1265.8" y="490.18" font-family="'Liberation Sans',Arial,sans-serif" font-size="15" font-weight="normal" fill="#000" stroke="#000" stroke-width="0.3" text-anchor="start" textLength="37.4" lengthAdjust="spacingAndGlyphs">2600</text>
<text x="1265.8" y="459.43" font-family="'Liberation Sans',Arial,sans-serif" font-size="15" font-weight="normal" fill="#000" stroke="#000" stroke-width="0.3" text-anchor="start" textLength="37.4" lengthAdjust="spacingAndGlyphs">2650</text>
<text x="1265.8" y="399.65" font-family="'Liberation Sans',Arial,sans-serif" font-size="15" font-weight="normal" fill="#000" stroke="#000" stroke-width="0.3" text-anchor="start" textLength="37.4" lengthAdjust="spacingAndGlyphs">2750</text>
<text x="1265.8" y="370.57" font-family="'Liberation Sans',Arial,sans-serif" font-size="15" font-weight="normal" fill="#000" stroke="#000" stroke-width="0.3" text-anchor="start" textLength="37.4" lengthAdjust="spacingAndGlyphs">2800</text>
<text x="1265.8" y="342" font-family="'Liberation Sans',Arial,sans-serif" font-size="15" font-weight="normal" fill="#000" stroke="#000" stroke-width="0.3" text-anchor="start" textLength="37.4" lengthAdjust="spacingAndGlyphs">2850</text>
<text x="1265.8" y="313.93" font-family="'Liberation Sans',Arial,sans-serif" font-size="15" font-weight="normal" fill="#000" stroke="#000" stroke-width="0.3" text-anchor="start" textLength="37.4" lengthAdjust="spacingAndGlyphs">2900</text>
<text x="1265.8" y="286.34" font-family="'Liberation Sans',Arial,sans-serif" font-size="15" font-weight="normal" fill="#000" stroke="#000" stroke-width="0.3" text-anchor="start" textLength="37.4" lengthAdjust="spacingAndGlyphs">2950</text>
<text x="1265.8" y="259.21" font-family="'Liberation Sans',Arial,sans-serif" font-size="15" font-weight="normal" fill="#000" stroke="#000" stroke-width="0.3" text-anchor="start" textLength="37.4" lengthAdjust="spacingAndGlyphs">3000</text>
<text x="1265.8" y="232.54" font-family="'Liberation Sans',Arial,sans-serif" font-size="15" font-weight="normal" fill="#000" stroke="#000" stroke-width="0.3" text-anchor="start" textLength="37.4" lengthAdjust="spacingAndGlyphs">3050</text>
<text x="1265.8" y="206.29" font-family="'Liberation Sans',Arial,sans-serif" font-size="15" font-weight="normal" fill="#000" stroke="#000" stroke-width="0.3" text-anchor="start" textLength="37.4" lengthAdjust="spacingAndGlyphs">3100</text>
<text x="1265.8" y="180.47" font-family="'Liberation Sans',Arial,sans-serif" font-size="15" font-weight="normal" fill="#000" stroke="#000" stroke-width="0.3" text-anchor="start" textLength="37.4" lengthAdjust="spacingAndGlyphs">3150</text>
<text x="1265.8" y="155.05" font-family="'Liberation Sans',Arial,sans-serif" font-size="15" font-weight="normal" fill="#000" stroke="#000" stroke-width="0.3" text-anchor="start" textLength="37.4" lengthAdjust="spacingAndGlyphs">3200</text>
<text x="1265.8" y="130.02" font-family="'Liberation Sans',Arial,sans-serif" font-size="15" font-weight="normal" fill="#000" stroke="#000" stroke-width="0.3" text-anchor="start" textLength="37.4" lengthAdjust="spacingAndGlyphs">3250</text>
<text x="1265.8" y="105.38" font-family="'Liberation Sans',Arial,sans-serif" font-size="15" font-weight="normal" fill="#000" stroke="#000" stroke-width="0.3" text-anchor="start" textLength="37.4" lengthAdjust="spacingAndGlyphs">3300</text>
<text x="1265.8" y="81.11" font-family="'Liberation Sans',Arial,sans-serif" font-size="15" font-weight="normal" fill="#000" stroke="#000" stroke-width="0.3" text-anchor="start" textLength="37.4" lengthAdjust="spacingAndGlyphs">3350</text>
<text x="1265.8" y="57.2" font-family="'Liberation Sans',Arial,sans-serif" font-size="15" font-weight="normal" fill="#000" stroke="#000" stroke-width="0.3" text-anchor="start" textLength="37.4" lengthAdjust="spacingAndGlyphs">3400</text>
<text x="1265.8" y="429.27" font-family="'Liberation Sans',Arial,sans-serif" font-size="15" font-weight="normal" fill="#000" stroke="#000" stroke-width="0.3" text-anchor="start" textLength="37.4" lengthAdjust="spacingAndGlyphs">2700</text>
<path d="M1257.6 150.8L1263.2 142.5H1328.2V159.1H1263.2Z" fill="#fff" stroke="#00008b" stroke-width="1.8" stroke-linejoin="miter"/>
<text x="1264.7" y="155.9" font-family="'Liberation Sans',Arial,sans-serif" font-size="14.6" font-weight="normal" fill="#000" stroke="#000" stroke-width="0.3" text-anchor="start" textLength="60.4" lengthAdjust="spacingAndGlyphs">3197.86</text>
<path d="M1257.6 227.6L1263.2 219.3H1328.2V235.9H1263.2Z" fill="#fff" stroke="#d8123a" stroke-width="1.8" stroke-linejoin="miter"/>
<text x="1264.7" y="232.7" font-family="'Liberation Sans',Arial,sans-serif" font-size="14.6" font-weight="normal" fill="#000" stroke="#000" stroke-width="0.3" text-anchor="start" textLength="60.4" lengthAdjust="spacingAndGlyphs">3049.18</text>
<path d="M1257.6 417.3L1263.2 409H1328.2V425.6H1263.2Z" fill="#fff" stroke="#000" stroke-width="2.2" stroke-linejoin="miter"/>
<text x="1264.7" y="422.4" font-family="'Liberation Sans',Arial,sans-serif" font-size="15.2" font-weight="bold" fill="#000" stroke="#000" stroke-width="0.3" text-anchor="start" textLength="61.5" lengthAdjust="spacingAndGlyphs">2711.02</text>
<text x="25.6" y="20.8" font-family="'Liberation Sans',Arial,sans-serif" font-size="21.2" font-weight="bold" fill="#000" stroke="#000" stroke-width="0.3" text-anchor="start" textLength="51.2" lengthAdjust="spacingAndGlyphs">$SPX</text>
<text x="83.2" y="20.6" font-family="'Liberation Sans',Arial,sans-serif" font-size="16.5" font-weight="normal" fill="#000" stroke="#000" stroke-width="0.3" text-anchor="start" textLength="192.6" lengthAdjust="spacingAndGlyphs">S&amp;P 500 Large Cap Index</text>
<text x="284" y="20.6" font-family="'Liberation Sans',Arial,sans-serif" font-size="14" font-weight="normal" fill="#000" stroke="#000" stroke-width="0.3" text-anchor="start" textLength="36.4" lengthAdjust="spacingAndGlyphs">INDX</text>
<text x="25.6" y="40.3" font-family="'Liberation Sans',Arial,sans-serif" font-size="14.3" font-weight="normal" fill="#000" stroke="#000" stroke-width="0.3" text-anchor="start" textLength="92.2" lengthAdjust="spacingAndGlyphs">13-Mar-2020</text>
<text x="487.8" y="40.4" font-family="'Liberation Sans',Arial,sans-serif" font-size="16.6" font-weight="bold" fill="#000" stroke="#000" stroke-width="0.3" text-anchor="start" textLength="43.7" lengthAdjust="spacingAndGlyphs">Open</text>
<text x="537.3" y="40.4" font-family="'Liberation Sans',Arial,sans-serif" font-size="14.2" font-weight="normal" fill="#000" stroke="#000" stroke-width="0.3" text-anchor="start" textLength="60.5" lengthAdjust="spacingAndGlyphs">2569.99</text>
<text x="607.5" y="40.4" font-family="'Liberation Sans',Arial,sans-serif" font-size="16.6" font-weight="bold" fill="#000" stroke="#000" stroke-width="0.3" text-anchor="start" textLength="37.2" lengthAdjust="spacingAndGlyphs">High</text>
<text x="650.2" y="40.4" font-family="'Liberation Sans',Arial,sans-serif" font-size="14.2" font-weight="normal" fill="#000" stroke="#000" stroke-width="0.3" text-anchor="start" textLength="60.2" lengthAdjust="spacingAndGlyphs">2711.33</text>
<text x="720.1" y="40.4" font-family="'Liberation Sans',Arial,sans-serif" font-size="16.6" font-weight="bold" fill="#000" stroke="#000" stroke-width="0.3" text-anchor="start" textLength="36.6" lengthAdjust="spacingAndGlyphs">Low</text>
<text x="762.8" y="40.4" font-family="'Liberation Sans',Arial,sans-serif" font-size="14.2" font-weight="normal" fill="#000" stroke="#000" stroke-width="0.3" text-anchor="start" textLength="59.9" lengthAdjust="spacingAndGlyphs">2492.37</text>
<text x="833" y="40.4" font-family="'Liberation Sans',Arial,sans-serif" font-size="16.6" font-weight="bold" fill="#000" stroke="#000" stroke-width="0.3" text-anchor="start" textLength="49.5" lengthAdjust="spacingAndGlyphs">Close</text>
<text x="887.4" y="40.4" font-family="'Liberation Sans',Arial,sans-serif" font-size="14.2" font-weight="normal" fill="#000" stroke="#000" stroke-width="0.3" text-anchor="start" textLength="60.4" lengthAdjust="spacingAndGlyphs">2711.02</text>
<text x="958.4" y="40.4" font-family="'Liberation Sans',Arial,sans-serif" font-size="16.6" font-weight="bold" fill="#000" stroke="#000" stroke-width="0.3" text-anchor="start" textLength="65.4" lengthAdjust="spacingAndGlyphs">Volume</text>
<text x="1029.4" y="40.4" font-family="'Liberation Sans',Arial,sans-serif" font-size="14.2" font-weight="normal" fill="#000" stroke="#000" stroke-width="0.3" text-anchor="start" textLength="34" lengthAdjust="spacingAndGlyphs">5.0B</text>
<text x="1074" y="40.4" font-family="'Liberation Sans',Arial,sans-serif" font-size="16.6" font-weight="bold" fill="#000" stroke="#000" stroke-width="0.3" text-anchor="start" textLength="33.4" lengthAdjust="spacingAndGlyphs">Chg</text>
<text x="1114" y="40.4" font-family="'Liberation Sans',Arial,sans-serif" font-size="14.2" font-weight="normal" fill="#000" stroke="#000" stroke-width="0.3" text-anchor="start" textLength="131.1" lengthAdjust="spacingAndGlyphs">+230.38 (+9.29%)</text>
<path d="M1249.4 39.2L1254.7 32L1260 39.2Z" fill="#2a6e2a"/>
<text x="1120.6" y="20.2" font-family="'DejaVu Sans','Liberation Sans',sans-serif" font-size="16.5" font-weight="normal" fill="#454545" stroke="#454545" stroke-width="0.3" text-anchor="start" textLength="140" lengthAdjust="spacingAndGlyphs">©StockCharts.com</text>
<path d="M32 49v9.2M29.8 50.2h2.2M36.9 52v10.3M34.6 56h2.3M36.9 59.2h2.2M41.4 49v10.4M39.2 56h2.2M41.4 51.2h2.3" stroke="#000" stroke-width="1.9" fill="none"/>
<text transform="translate(49.6 60.6) scale(1.04 1)" font-family="'DejaVu Sans','Liberation Sans',sans-serif" font-size="15" font-weight="normal" fill="#000" stroke="#000" stroke-width="0.3" text-anchor="start" textLength="176.54" lengthAdjust="spacing">$SPX (Daily) 2711.02</text>
<rect x="29.4" y="70.6" width="14.2" height="3.2" fill="#00008b"/>
<text x="46" y="77.6" font-family="'DejaVu Sans','Liberation Sans',sans-serif" font-size="14.4" font-weight="normal" fill="#00008b" stroke="#00008b" stroke-width="0.3" text-anchor="start" textLength="107.5" lengthAdjust="spacingAndGlyphs">MA(50) 3197.86</text>
<rect x="29.4" y="87.7" width="14.2" height="3.2" fill="#d8123a"/>
<text x="46" y="94.7" font-family="'DejaVu Sans','Liberation Sans',sans-serif" font-size="14.4" font-weight="normal" fill="#d8123a" stroke="#d8123a" stroke-width="0.3" text-anchor="start" textLength="115.7" lengthAdjust="spacingAndGlyphs">MA(200) 3049.18</text>
<text x="39.12" y="589.4" font-family="'Liberation Sans',Arial,sans-serif" font-size="16" font-weight="bold" fill="#000" stroke="#000" stroke-width="0.3" text-anchor="middle" textLength="35.15" lengthAdjust="spacingAndGlyphs">Aug</text>
<text x="92.04" y="589.4" font-family="'Liberation Sans',Arial,sans-serif" font-size="15" font-weight="normal" fill="#000" stroke="#000" stroke-width="0.3" text-anchor="middle" textLength="18.52" lengthAdjust="spacingAndGlyphs">12</text>
<text x="131.13" y="589.4" font-family="'Liberation Sans',Arial,sans-serif" font-size="15" font-weight="normal" fill="#000" stroke="#000" stroke-width="0.3" text-anchor="middle" textLength="18.52" lengthAdjust="spacingAndGlyphs">19</text>
<text x="170.22" y="589.4" font-family="'Liberation Sans',Arial,sans-serif" font-size="15" font-weight="normal" fill="#000" stroke="#000" stroke-width="0.3" text-anchor="middle" textLength="18.52" lengthAdjust="spacingAndGlyphs">26</text>
<text x="211.11" y="589.4" font-family="'Liberation Sans',Arial,sans-serif" font-size="16" font-weight="bold" fill="#000" stroke="#000" stroke-width="0.3" text-anchor="middle" textLength="33.16" lengthAdjust="spacingAndGlyphs">Sep</text>
<text x="240.59" y="589.4" font-family="'Liberation Sans',Arial,sans-serif" font-size="15" font-weight="normal" fill="#000" stroke="#000" stroke-width="0.3" text-anchor="middle" textLength="9.26" lengthAdjust="spacingAndGlyphs">9</text>
<text x="279.68" y="589.4" font-family="'Liberation Sans',Arial,sans-serif" font-size="15" font-weight="normal" fill="#000" stroke="#000" stroke-width="0.3" text-anchor="middle" textLength="18.52" lengthAdjust="spacingAndGlyphs">16</text>
<text x="318.77" y="589.4" font-family="'Liberation Sans',Arial,sans-serif" font-size="15" font-weight="normal" fill="#000" stroke="#000" stroke-width="0.3" text-anchor="middle" textLength="18.52" lengthAdjust="spacingAndGlyphs">23</text>
<text x="367.47" y="589.4" font-family="'Liberation Sans',Arial,sans-serif" font-size="16" font-weight="bold" fill="#000" stroke="#000" stroke-width="0.3" text-anchor="middle" textLength="30.14" lengthAdjust="spacingAndGlyphs">Oct</text>
<text x="396.95" y="589.4" font-family="'Liberation Sans',Arial,sans-serif" font-size="15" font-weight="normal" fill="#000" stroke="#000" stroke-width="0.3" text-anchor="middle" textLength="9.26" lengthAdjust="spacingAndGlyphs">7</text>
<text x="436.04" y="589.4" font-family="'Liberation Sans',Arial,sans-serif" font-size="15" font-weight="normal" fill="#000" stroke="#000" stroke-width="0.3" text-anchor="middle" textLength="18.52" lengthAdjust="spacingAndGlyphs">14</text>
<text x="475.13" y="589.4" font-family="'Liberation Sans',Arial,sans-serif" font-size="15" font-weight="normal" fill="#000" stroke="#000" stroke-width="0.3" text-anchor="middle" textLength="18.52" lengthAdjust="spacingAndGlyphs">21</text>
<text x="514.22" y="589.4" font-family="'Liberation Sans',Arial,sans-serif" font-size="15" font-weight="normal" fill="#000" stroke="#000" stroke-width="0.3" text-anchor="middle" textLength="18.52" lengthAdjust="spacingAndGlyphs">28</text>
<text x="547.29" y="589.4" font-family="'Liberation Sans',Arial,sans-serif" font-size="16" font-weight="bold" fill="#000" stroke="#000" stroke-width="0.3" text-anchor="middle" textLength="34.16" lengthAdjust="spacingAndGlyphs">Nov</text>
<text x="592.4" y="589.4" font-family="'Liberation Sans',Arial,sans-serif" font-size="15" font-weight="normal" fill="#000" stroke="#000" stroke-width="0.3" text-anchor="middle" textLength="17.28" lengthAdjust="spacingAndGlyphs">11</text>
<text x="631.49" y="589.4" font-family="'Liberation Sans',Arial,sans-serif" font-size="15" font-weight="normal" fill="#000" stroke="#000" stroke-width="0.3" text-anchor="middle" textLength="18.52" lengthAdjust="spacingAndGlyphs">18</text>
<text x="670.58" y="589.4" font-family="'Liberation Sans',Arial,sans-serif" font-size="15" font-weight="normal" fill="#000" stroke="#000" stroke-width="0.3" text-anchor="middle" textLength="18.52" lengthAdjust="spacingAndGlyphs">25</text>
<text x="703.65" y="589.4" font-family="'Liberation Sans',Arial,sans-serif" font-size="16" font-weight="bold" fill="#000" stroke="#000" stroke-width="0.3" text-anchor="middle" textLength="33.17" lengthAdjust="spacingAndGlyphs">Dec</text>
<text x="740.94" y="589.4" font-family="'Liberation Sans',Arial,sans-serif" font-size="15" font-weight="normal" fill="#000" stroke="#000" stroke-width="0.3" text-anchor="middle" textLength="9.26" lengthAdjust="spacingAndGlyphs">9</text>
<text x="780.03" y="589.4" font-family="'Liberation Sans',Arial,sans-serif" font-size="15" font-weight="normal" fill="#000" stroke="#000" stroke-width="0.3" text-anchor="middle" textLength="18.52" lengthAdjust="spacingAndGlyphs">16</text>
<text x="819.12" y="589.4" font-family="'Liberation Sans',Arial,sans-serif" font-size="15" font-weight="normal" fill="#000" stroke="#000" stroke-width="0.3" text-anchor="middle" textLength="18.52" lengthAdjust="spacingAndGlyphs">23</text>
<text x="867.83" y="589.4" font-family="'Liberation Sans',Arial,sans-serif" font-size="16" font-weight="bold" fill="#000" stroke="#000" stroke-width="0.3" text-anchor="middle" textLength="40.22" lengthAdjust="spacingAndGlyphs">2020</text>
<text x="920.75" y="589.4" font-family="'Liberation Sans',Arial,sans-serif" font-size="15" font-weight="normal" fill="#000" stroke="#000" stroke-width="0.3" text-anchor="middle" textLength="18.52" lengthAdjust="spacingAndGlyphs">13</text>
<text x="959.84" y="589.4" font-family="'Liberation Sans',Arial,sans-serif" font-size="15" font-weight="normal" fill="#000" stroke="#000" stroke-width="0.3" text-anchor="middle" textLength="18.52" lengthAdjust="spacingAndGlyphs">21</text>
<text x="991.11" y="589.4" font-family="'Liberation Sans',Arial,sans-serif" font-size="15" font-weight="normal" fill="#000" stroke="#000" stroke-width="0.3" text-anchor="middle" textLength="18.52" lengthAdjust="spacingAndGlyphs">27</text>
<text x="1032" y="589.4" font-family="'Liberation Sans',Arial,sans-serif" font-size="16" font-weight="bold" fill="#000" stroke="#000" stroke-width="0.3" text-anchor="middle" textLength="32.14" lengthAdjust="spacingAndGlyphs">Feb</text>
<text x="1069.29" y="589.4" font-family="'Liberation Sans',Arial,sans-serif" font-size="15" font-weight="normal" fill="#000" stroke="#000" stroke-width="0.3" text-anchor="middle" textLength="18.52" lengthAdjust="spacingAndGlyphs">10</text>
<text x="1108.38" y="589.4" font-family="'Liberation Sans',Arial,sans-serif" font-size="15" font-weight="normal" fill="#000" stroke="#000" stroke-width="0.3" text-anchor="middle" textLength="18.52" lengthAdjust="spacingAndGlyphs">18</text>
<text x="1139.66" y="589.4" font-family="'Liberation Sans',Arial,sans-serif" font-size="15" font-weight="normal" fill="#000" stroke="#000" stroke-width="0.3" text-anchor="middle" textLength="18.52" lengthAdjust="spacingAndGlyphs">24</text>
<text x="1180.55" y="589.4" font-family="'Liberation Sans',Arial,sans-serif" font-size="16" font-weight="bold" fill="#000" stroke="#000" stroke-width="0.3" text-anchor="middle" textLength="32.15" lengthAdjust="spacingAndGlyphs">Mar</text>
<text x="1217.84" y="589.4" font-family="'Liberation Sans',Arial,sans-serif" font-size="15" font-weight="normal" fill="#000" stroke="#000" stroke-width="0.3" text-anchor="middle" textLength="9.26" lengthAdjust="spacingAndGlyphs">9</text>
<path d="M25.9 745.4H1261.4M25.9 712.3H1261.4M25.9 679.2H1261.4M25.9 646.1H1261.4M25.9 613H1261.4" stroke="#e7e7e7" stroke-width="1.5" fill="none"/>
<path d="M53.95 594.8V778.5M93.04 594.8V778.5M132.13 594.8V778.5M171.22 594.8V778.5M241.59 594.8V778.5M280.68 594.8V778.5M319.77 594.8V778.5M358.86 594.8V778.5M397.95 594.8V778.5M437.04 594.8V778.5M476.13 594.8V778.5M515.22 594.8V778.5M554.31 594.8V778.5M593.4 594.8V778.5M632.49 594.8V778.5M671.58 594.8V778.5M741.94 594.8V778.5M781.03 594.8V778.5M820.12 594.8V778.5M851.39 594.8V778.5M882.66 594.8V778.5M921.75 594.8V778.5M960.84 594.8V778.5M992.11 594.8V778.5M1070.29 594.8V778.5M1109.38 594.8V778.5M1140.66 594.8V778.5M1218.84 594.8V778.5" stroke="#e7e7e7" stroke-width="1.5" fill="none"/>
<path d="M38.32 594.8V778.5M210.31 594.8V778.5M366.67 594.8V778.5M546.49 594.8V778.5M702.85 594.8V778.5M867.03 594.8V778.5M1031.2 594.8V778.5M1179.75 594.8V778.5" stroke="#d0d0d0" stroke-width="1.9" fill="none"/>
<rect x="27" y="595.8" width="240" height="17.5" fill="#fff"/>
<path d="M59.31 778.5V706.01h6.92V778.5zM67.13 778.5V701.46h6.92V778.5zM74.95 778.5V706.01h6.92V778.5zM98.4 778.5V709.34h6.92V778.5zM114.04 778.5V699.65h6.92V778.5zM121.86 778.5V709.34h6.92V778.5zM129.67 778.5V719.95h6.92V778.5zM145.31 778.5V726.46h6.92V778.5zM168.76 778.5V726.46h6.92V778.5zM184.4 778.5V724.95h6.92V778.5zM192.22 778.5V726.46h6.92V778.5zM200.04 778.5V726.46h6.92V778.5zM215.67 778.5V724.95h6.92V778.5zM223.49 778.5V713.89h6.92V778.5zM231.31 778.5V723.43h6.92V778.5zM246.94 778.5V702.98h6.92V778.5zM254.76 778.5V712.52h6.92V778.5zM262.58 778.5V709.34h6.92V778.5zM286.03 778.5V718.89h6.92V778.5zM293.85 778.5V721.92h6.92V778.5zM301.67 778.5V727.98h6.92V778.5zM332.94 778.5V721.92h6.92V778.5zM356.4 778.5V723.43h6.92V778.5zM379.85 778.5V717.07h6.92V778.5zM387.67 778.5V726.46h6.92V778.5zM411.12 778.5V732.52h6.92V778.5zM418.94 778.5V724.65h6.92V778.5zM426.76 778.5V713.89h6.92V778.5zM442.39 778.5V723.43h6.92V778.5zM458.03 778.5V724.95h6.92V778.5zM473.67 778.5V721.92h6.92V778.5zM489.3 778.5V720.1h6.92V778.5zM497.12 778.5V713.89h6.92V778.5zM504.94 778.5V720.1h6.92V778.5zM512.76 778.5V717.07h6.92V778.5zM528.39 778.5V713.89h6.92V778.5zM544.03 778.5V713.89h6.92V778.5zM551.85 778.5V709.34h6.92V778.5zM567.48 778.5V712.52h6.92V778.5zM575.3 778.5V707.52h6.92V778.5zM583.12 778.5V723.43h6.92V778.5zM598.75 778.5V723.43h6.92V778.5zM606.57 778.5V721.92h6.92V778.5zM614.39 778.5V724.95h6.92V778.5zM622.21 778.5V717.07h6.92V778.5zM630.03 778.5V718.89h6.92V778.5zM661.3 778.5V724.95h6.92V778.5zM669.12 778.5V715.4h6.92V778.5zM676.94 778.5V696.62h6.92V778.5zM684.75 778.5V729.49h6.92V778.5zM716.02 778.5V720.1h6.92V778.5zM723.84 778.5V723.43h6.92V778.5zM731.66 778.5V721.92h6.92V778.5zM755.12 778.5V721.92h6.92V778.5zM762.93 778.5V706.01h6.92V778.5zM770.75 778.5V713.89h6.92V778.5zM778.57 778.5V707.52h6.92V778.5zM786.39 778.5V712.52h6.92V778.5zM802.02 778.5V713.89h6.92V778.5zM809.84 778.5V655.71h6.92V778.5zM817.66 778.5V724.95h6.92V778.5zM833.29 778.5V743.89h6.92V778.5zM841.11 778.5V742.37h6.92V778.5zM856.75 778.5V735.86h6.92V778.5zM864.57 778.5V718.58h6.92V778.5zM880.2 778.5V717.07h6.92V778.5zM895.84 778.5V713.89h6.92V778.5zM903.66 778.5V717.07h6.92V778.5zM919.29 778.5V721.16h6.92V778.5zM934.93 778.5V718.89h6.92V778.5zM942.75 778.5V721.16h6.92V778.5zM950.57 778.5V707.52h6.92V778.5zM966.2 778.5V717.37h6.92V778.5zM974.02 778.5V712.52h6.92V778.5zM997.47 778.5V712.52h6.92V778.5zM1013.11 778.5V704.49h6.92V778.5zM1028.74 778.5V709.34h6.92V778.5zM1036.56 778.5V707.52h6.92V778.5zM1044.38 778.5V704.49h6.92V778.5zM1052.2 778.5V713.89h6.92V778.5zM1067.83 778.5V721.92h6.92V778.5zM1075.65 778.5V717.37h6.92V778.5zM1083.47 778.5V712.52h6.92V778.5zM1099.11 778.5V723.43h6.92V778.5zM1114.74 778.5V721.92h6.92V778.5zM1177.29 778.5V652.55h6.92V778.5zM1192.92 778.5V677.87h6.92V778.5zM1224.19 778.5V635.59h6.92V778.5zM1247.65 778.5V613.53h6.92V778.5z" fill="#7a7a7a" fill-opacity="0.87" stroke="#484848" stroke-width="1.1"/>
<path d="M28.04 778.5V688.58h6.92V778.5zM35.86 778.5V690.1h6.92V778.5zM43.68 778.5V706.01h6.92V778.5zM51.5 778.5V691.92h6.92V778.5zM82.77 778.5V717.07h6.92V778.5zM90.58 778.5V724.65h6.92V778.5zM106.22 778.5V694.95h6.92V778.5zM137.49 778.5V723.13h6.92V778.5zM153.13 778.5V727.98h6.92V778.5zM160.95 778.5V701.46h6.92V778.5zM176.58 778.5V714.34h6.92V778.5zM207.85 778.5V721.62h6.92V778.5zM239.13 778.5V709.34h6.92V778.5zM270.4 778.5V716.62h6.92V778.5zM278.22 778.5V717.37h6.92V778.5zM309.49 778.5V671.62h6.92V778.5zM317.31 778.5V726.46h6.92V778.5zM325.12 778.5V712.52h6.92V778.5zM340.76 778.5V726.46h6.92V778.5zM348.58 778.5V720.1h6.92V778.5zM364.21 778.5V715.86h6.92V778.5zM372.03 778.5V707.52h6.92V778.5zM395.49 778.5V729.49h6.92V778.5zM403.31 778.5V718.13h6.92V778.5zM434.58 778.5V734.04h6.92V778.5zM450.21 778.5V723.43h6.92V778.5zM465.85 778.5V713.89h6.92V778.5zM481.48 778.5V717.07h6.92V778.5zM520.58 778.5V718.89h6.92V778.5zM536.21 778.5V706.01h6.92V778.5zM559.67 778.5V704.49h6.92V778.5zM590.94 778.5V732.52h6.92V778.5zM637.85 778.5V715.4h6.92V778.5zM645.66 778.5V704.49h6.92V778.5zM653.48 778.5V717.37h6.92V778.5zM692.57 778.5V749.49h6.92V778.5zM700.39 778.5V718.89h6.92V778.5zM708.21 778.5V712.52h6.92V778.5zM739.48 778.5V724.65h6.92V778.5zM747.3 778.5V723.43h6.92V778.5zM794.21 778.5V707.52h6.92V778.5zM825.48 778.5V759.34h6.92V778.5zM848.93 778.5V738.89h6.92V778.5zM872.38 778.5V721.16h6.92V778.5zM888.02 778.5V715.4h6.92V778.5zM911.48 778.5V724.95h6.92V778.5zM927.11 778.5V713.89h6.92V778.5zM958.38 778.5V706.01h6.92V778.5zM981.84 778.5V709.34h6.92V778.5zM989.65 778.5V707.52h6.92V778.5zM1005.29 778.5V709.34h6.92V778.5zM1020.93 778.5V690.1h6.92V778.5zM1060.02 778.5V715.4h6.92V778.5zM1091.29 778.5V715.4h6.92V778.5zM1106.92 778.5V715.86h6.92V778.5zM1122.56 778.5V712.25h6.92V778.5zM1130.38 778.5V709.23h6.92V778.5zM1138.2 778.5V688.56h6.92V778.5zM1146.01 778.5V674.39h6.92V778.5zM1153.83 778.5V679.26h6.92V778.5zM1161.65 778.5V649.53h6.92V778.5zM1169.47 778.5V608.88h6.92V778.5zM1185.1 778.5V651.16h6.92V778.5zM1200.74 778.5V671.6h6.92V778.5zM1208.56 778.5V649.53h6.92V778.5zM1216.38 778.5V622.82h6.92V778.5zM1232.01 778.5V638.61h6.92V778.5zM1239.83 778.5V605.86h6.92V778.5z" fill="#ce6470" fill-opacity="0.87" stroke="#c03848" stroke-width="1.1"/>
<polyline points="26.82,715.76 42.73,714.24 65.45,713.48 70,711.97 85.15,711.97 92.73,713.94 98.79,712.42 148.79,712.42 153.33,713.94 194.24,713.94 201.82,715.3 220,715.3 306.06,715.3 309.09,714.24 328.79,713.94 331.82,715.3 389.39,715.3 393.94,716.82 400,717.27 428.48,717.27 434.55,718.79 537.58,718.79 545.15,717.27 580,717.27 608.48,716.97 616.06,718.79 632.73,718.79 638.79,716.97 687.27,716.97 693.33,718.79 760,718.79 788.48,718.79 796.06,716.97 806.67,716.52 812.73,715 818.79,715.3 833.94,718.48 843.03,718.48 849.09,720 940,720 953.33,720 959.39,718.48 985.15,718.48 992.73,716.97 1016.97,716.97 1023.03,715.3 1041.21,715 1047.27,713.79 1056.36,714.24 1062.42,715.3 1071.52,715.3 1129.69,715.17 1138.98,713.31 1152.92,710.99 1164.53,708.66 1173.82,704.02 1180.79,702.16 1199.37,699.37 1210.99,697.05 1220.28,693.57 1234.22,691.24 1243.51,686.13 1250.48,684.27" fill="none" stroke="#ff0000" stroke-width="1.6" stroke-linejoin="round"/>
<path d="M30.3 604.4h3.6v6.6h-3.6zM34.9 597.8h3.6v13.2h-3.6zM39.5 601.2h3.6v9.8h-3.6z" fill="#a3b3a9" stroke="#5e6e64" stroke-width="1.3"/>
<text transform="translate(48.3 610.4) scale(1.04 1)" font-family="'DejaVu Sans','Liberation Sans',sans-serif" font-size="15" font-weight="normal" fill="#000" stroke="#000" stroke-width="0.3" text-anchor="start" textLength="251.54" lengthAdjust="spacing">Volume 4.97B, EMA(50) 2.87B</text>
<text x="1266" y="749.7" font-family="'Liberation Sans',Arial,sans-serif" font-size="15" font-weight="normal" fill="#000" stroke="#000" stroke-width="0.3" text-anchor="start" textLength="19.6" lengthAdjust="spacingAndGlyphs">1B</text>
<text x="1266" y="716.6" font-family="'Liberation Sans',Arial,sans-serif" font-size="15" font-weight="normal" fill="#000" stroke="#000" stroke-width="0.3" text-anchor="start" textLength="19.6" lengthAdjust="spacingAndGlyphs">2B</text>
<text x="1266" y="683.5" font-family="'Liberation Sans',Arial,sans-serif" font-size="15" font-weight="normal" fill="#000" stroke="#000" stroke-width="0.3" text-anchor="start" textLength="19.6" lengthAdjust="spacingAndGlyphs">3B</text>
<text x="1266" y="650.4" font-family="'Liberation Sans',Arial,sans-serif" font-size="15" font-weight="normal" fill="#000" stroke="#000" stroke-width="0.3" text-anchor="start" textLength="19.6" lengthAdjust="spacingAndGlyphs">4B</text>
<path d="M25.9 951.3H1261.4M25.9 920H1261.4M25.9 888.7H1261.4M25.9 857.4H1261.4M25.9 826.1H1261.4M25.9 794.8H1261.4" stroke="#e7e7e7" stroke-width="1.5" fill="none"/>
<path d="M53.95 778.5V963.3M93.04 778.5V963.3M132.13 778.5V963.3M171.22 778.5V963.3M241.59 778.5V963.3M280.68 778.5V963.3M319.77 778.5V963.3M358.86 778.5V963.3M397.95 778.5V963.3M437.04 778.5V963.3M476.13 778.5V963.3M515.22 778.5V963.3M554.31 778.5V963.3M593.4 778.5V963.3M632.49 778.5V963.3M671.58 778.5V963.3M741.94 778.5V963.3M781.03 778.5V963.3M820.12 778.5V963.3M851.39 778.5V963.3M882.66 778.5V963.3M921.75 778.5V963.3M960.84 778.5V963.3M992.11 778.5V963.3M1070.29 778.5V963.3M1109.38 778.5V963.3M1140.66 778.5V963.3M1218.84 778.5V963.3" stroke="#e7e7e7" stroke-width="1.5" fill="none"/>
<path d="M38.32 778.5V963.3M210.31 778.5V963.3M366.67 778.5V963.3M546.49 778.5V963.3M702.85 778.5V963.3M867.03 778.5V963.3M1031.2 778.5V963.3M1179.75 778.5V963.3" stroke="#d0d0d0" stroke-width="1.9" fill="none"/>
<rect x="27" y="779.7" width="337" height="19.4" fill="#fff"/>
<clipPath id="ac"><rect x="25.9" y="778.5" width="1235.5" height="184.8"/></clipPath>
<g clip-path="url(#ac)">
<polyline points="25.9,897.08 30.6,906.68 38.42,920.12 46.24,926.83 54.05,938.93 61.87,942.19 69.69,948.52 77.51,923.57 85.33,928.18 93.14,932.98 100.96,918.58 108.78,927.79 116.6,931.63 124.42,916.28 132.23,901.31 140.05,904.76 147.87,904.76 155.69,909.56 163.51,920.12 171.32,923.57 179.14,916.85 186.96,922.03 194.78,904.76 202.6,902.84 210.41,907.64 218.23,898.04 226.05,879.81 233.87,882.69 241.69,882.69 249.5,887.49 257.32,878.85 265.14,869.83 272.96,873.47 280.78,877.89 288.59,877.89 296.41,885.57 304.23,879.42 312.05,887.49 319.87,890.94 327.68,901.88 335.5,909.56 343.32,912.44 351.14,918.2 358.96,922.99 366.77,928.75 374.59,937.39 382.41,942.19 390.23,920.12 398.05,920.12 405.86,924.91 413.68,926.83 421.5,916.28 429.32,899 437.14,899.96 444.95,885.57 452.77,889.4 460.59,885.95 468.41,890.36 476.23,889.02 484.04,889.02 491.86,892.28 499.68,885.95 507.5,884.03 515.32,874.63 523.13,876.93 530.95,882.69 538.77,889.02 546.59,878.46 554.41,868.68 562.22,873.09 570.04,876.55 577.86,865.8 585.68,871.75 593.5,878.27 601.31,870.21 609.13,876.55 616.95,883.07 624.77,867.33 632.59,868.68 640.4,870.6 648.22,880.77 656.04,885.18 663.86,887.49 671.68,873.47 679.49,867.33 687.31,859.08 695.13,868.29 702.95,881.73 710.77,895.74 718.58,878.27 726.4,882.69 734.22,862.53 742.04,868.29 749.86,874.05 757.67,876.55 765.49,856.39 773.31,860.61 781.13,856.39 788.95,859.65 796.76,862.53 804.58,860.61 812.4,846.6 820.22,848.14 828.04,851.4 835.85,842 843.67,840.46 851.49,853.32 859.31,863.88 867.13,845.26 874.94,860.61 882.76,874.05 890.58,879.81 898.4,867.33 906.22,867.33 914.03,868.68 921.85,871.75 929.67,871.75 937.49,873.28 945.31,863.49 953.12,856.39 960.94,862.53 968.76,861 976.58,873.09 984.4,889.4 992.21,904.76 1000.03,890.36 1007.85,890.36 1015.67,899.96 1023.49,913.78 1031.3,920.5 1039.12,899.96 1046.94,889.02 1054.76,884.61 1062.58,889.02 1070.39,889.02 1078.21,877.89 1086.03,879.81 1093.85,884.61 1101.67,889.02 1109.48,893.75 1117.3,884.47 1125.12,898.11 1132.94,905.11 1140.76,924.19 1148.57,935.85 1156.39,941.15 1164.21,949 1172.03,953.24 1179.85,912.53 1187.66,909.35 1195.48,918.89 1203.3,926.31 1211.12,931.19 1218.94,940.52 1226.75,942.21 1234.57,946.88 1242.39,952.82 1250.21,947.09" fill="none" stroke="#23805a" stroke-width="1.8" stroke-linejoin="round"/>
<polyline points="25.9,912.44 30.6,897.08 38.42,899.96 46.24,884.61 54.05,846.79 61.87,856.78 69.69,861.57 77.51,873.09 85.33,880.77 93.14,873.47 100.96,885.18 108.78,881.15 116.6,879.42 124.42,885.95 132.23,892.67 140.05,890.36 147.87,893.63 155.69,891.9 163.51,870.21 171.32,875.39 179.14,882.69 186.96,885.95 194.78,892.28 202.6,896.7 210.41,890.36 218.23,895.64 226.05,902.84 233.87,904.76 241.69,907.64 249.5,902.84 257.32,907.64 265.14,910.9 272.96,912.44 280.78,906.68 288.59,909.56 296.41,902.84 304.23,905.72 312.05,898.62 319.87,899.96 327.68,892.28 335.5,895.16 343.32,899.96 351.14,895.16 358.96,899.96 366.77,890.36 374.59,861 382.41,862.53 390.23,873.47 398.05,877.89 405.86,861 413.68,869.25 421.5,875.97 429.32,887.1 437.14,889.4 444.95,896.51 452.77,898.62 460.59,902.84 468.41,895.16 476.23,899.96 484.04,902.84 491.86,902.84 499.68,905.72 507.5,910.52 515.32,915.32 523.13,917.24 530.95,913.97 538.77,917.24 546.59,922.03 554.41,924.91 562.22,922.99 570.04,921.07 577.86,924.91 585.68,922.03 593.5,924.91 601.31,928.18 609.13,925.3 616.95,928.18 624.77,932.59 632.59,934.51 640.4,937.77 648.22,918.58 656.04,922.03 663.86,925.3 671.68,929.71 679.49,931.63 687.31,934.51 695.13,931.63 702.95,899 710.77,876.55 718.58,883.65 726.4,889.02 734.22,899.96 742.04,902.84 749.86,898.62 757.67,901.88 765.49,912.44 773.31,918.58 781.13,923.57 788.95,925.3 796.76,926.83 804.58,928.18 812.4,932.98 820.22,934.51 828.04,932.98 835.85,935.85 843.67,938.93 851.49,920.5 859.31,920.5 867.13,926.83 874.94,919.16 882.76,917.24 890.58,921.07 898.4,927.41 906.22,931.63 914.03,934.51 921.85,938.93 929.67,940.65 937.49,944.3 945.31,946.99 953.12,948.52 960.94,948.52 968.76,950.25 976.58,932.59 984.4,922.03 992.21,890.36 1000.03,899.96 1007.85,906.68 1015.67,889.4 1023.49,884.61 1031.3,894.2 1039.12,904.76 1046.94,912.44 1054.76,913.78 1062.58,909.56 1070.39,913.78 1078.21,919.16 1086.03,922.03 1093.85,918.58 1101.67,920.12 1109.48,917 1117.3,920.03 1125.12,898.11 1132.94,897.68 1140.76,848.91 1148.57,829.83 1156.39,841.92 1164.21,811.81 1172.03,790.6 1179.85,820.29 1187.66,846.79 1195.48,863.76 1203.3,868.63 1211.12,853.16 1218.94,837.25 1226.75,852.09 1234.57,862.27 1242.39,837.25 1250.21,856.34" fill="none" stroke="#a3244f" stroke-width="1.8" stroke-linejoin="round"/>
<polyline points="25.9,896.12 38.42,901.31 46.24,901.31 54.05,895.16 61.87,890.36 69.69,884.61 77.51,884.61 85.33,884.61 93.14,883.07 100.96,885.57 116.6,885.57 124.42,889.4 132.23,894.2 140.05,899 147.87,903.42 155.69,906.3 163.51,906.3 171.32,904.76 179.14,904.76 186.96,906.68 194.78,910.52 202.6,915.32 210.41,917.72 218.23,920.88 226.05,922.99 241.69,925.87 257.32,927.79 272.96,924.91 280.78,926.26 288.59,926.26 296.41,927.41 304.23,927.79 312.05,931.06 319.87,932.98 327.68,935.85 335.5,937.77 343.32,938.93 351.14,938.93 358.96,937.39 366.77,932.59 374.59,925.87 382.41,920.12 390.23,918.58 398.05,918 405.86,915.32 413.68,912.44 421.5,912.44 429.32,915.89 437.14,921.07 444.95,924.91 452.77,926.83 460.59,928.75 468.41,931.63 476.23,933.17 484.04,934.51 491.86,937.39 499.68,937.77 507.5,937.39 515.32,935.85 523.13,932.98 530.95,932.59 538.77,932.59 546.59,929.71 554.41,926.26 562.22,922.99 570.04,920.69 577.86,918 585.68,916.66 593.5,915.32 601.31,912.44 609.13,910.9 616.95,909.56 624.77,905.72 632.59,901.31 640.4,898.62 648.22,898.62 656.04,899.96 663.86,899.96 671.68,898.62 679.49,895.16 687.31,892.28 695.13,890.36 702.95,894.78 710.77,899 718.58,903.8 726.4,907.64 734.22,909.56 742.04,910.9 749.86,912.44 757.67,914.07 765.49,913.78 773.31,910.9 781.13,909.17 788.95,906.1 796.76,902.84 804.58,899.96 812.4,895.16 820.22,891.71 828.04,887.49 835.85,882.69 843.67,878.27 851.49,878.27 859.31,877.89 867.13,876.55 874.94,877.89 882.76,879.42 890.58,880.77 898.4,880.77 906.22,879.42 914.03,877.89 921.85,875.01 929.67,873.09 937.49,869.25 945.31,864.45 953.12,859.65 960.94,856.39 968.76,852.94 976.58,854.28 984.4,857.74 992.21,865.41 1000.03,872.13 1007.85,877.89 1015.67,884.61 1023.49,887.49 1031.3,891.32 1039.12,897.08 1046.94,899.96 1054.76,901.88 1062.58,904.76 1070.39,906.1 1078.21,906.1 1086.03,906.1 1093.85,907.64 1101.67,908.21 1109.48,909.72 1117.3,911.55 1125.12,916.34 1132.94,918.89 1140.76,915.71 1148.57,907.86 1156.39,901.93 1164.21,892.38 1172.03,881.36 1179.85,879.66 1187.66,881.36 1195.48,881.36 1203.3,881.36 1211.12,878.18 1218.94,873.3 1226.75,870.12 1234.57,865.45 1242.39,859.52 1250.21,856.34" fill="none" stroke="#000" stroke-width="2.55" stroke-linejoin="round"/>
</g>
<rect x="25.9" y="594.8" width="1235.5" height="368.5" fill="none" stroke="#c6c6c6" stroke-width="1.9"/>
<line x1="25.9" y1="778.5" x2="1261.4" y2="778.5" stroke="#c6c6c6" stroke-width="1.9"/>
<path d="M1261.4 771.88h2.6M1261.4 765.26h2.6M1261.4 758.64h2.6M1261.4 752.02h2.6M1261.4 738.78h2.6M1261.4 732.16h2.6M1261.4 725.54h2.6M1261.4 718.92h2.6M1261.4 705.68h2.6M1261.4 699.06h2.6M1261.4 692.44h2.6M1261.4 685.82h2.6M1261.4 672.58h2.6M1261.4 665.96h2.6M1261.4 659.34h2.6M1261.4 652.72h2.6M1261.4 639.48h2.6M1261.4 632.86h2.6M1261.4 626.24h2.6M1261.4 619.62h2.6M1261.4 606.38h2.6M1261.4 599.76h2.6M1261.4 745.4h4M1261.4 712.3h4M1261.4 679.2h4M1261.4 646.1h4M1261.4 613h4" stroke="#cacaca" stroke-width="1.5" fill="none"/>
<path d="M1261.4 957.56h2.6M1261.4 945.04h2.6M1261.4 938.78h2.6M1261.4 932.52h2.6M1261.4 926.26h2.6M1261.4 913.74h2.6M1261.4 907.48h2.6M1261.4 901.22h2.6M1261.4 894.96h2.6M1261.4 882.44h2.6M1261.4 876.18h2.6M1261.4 869.92h2.6M1261.4 863.66h2.6M1261.4 851.14h2.6M1261.4 844.88h2.6M1261.4 838.62h2.6M1261.4 832.36h2.6M1261.4 819.84h2.6M1261.4 813.58h2.6M1261.4 807.32h2.6M1261.4 801.06h2.6M1261.4 788.54h2.6M1261.4 782.28h2.6M1261.4 951.3h4M1261.4 920h4M1261.4 888.7h4M1261.4 857.4h4M1261.4 826.1h4M1261.4 794.8h4" stroke="#cacaca" stroke-width="1.5" fill="none"/>
<rect x="29.6" y="788" width="13.8" height="3.2" fill="#000"/>
<text transform="translate(48.6 795.8) scale(1.04 1)" font-family="'DejaVu Sans','Liberation Sans',sans-serif" font-size="15" font-weight="normal" fill="#000" stroke="#000" stroke-width="0.3" text-anchor="start" textLength="123.56" lengthAdjust="spacing">ADX(14) 40.42</text>
<text transform="translate(183.6 795.8) scale(1.04 1)" font-family="'DejaVu Sans','Liberation Sans',sans-serif" font-size="15" font-weight="normal" fill="#1f7a52" stroke="#1f7a52" stroke-width="0.3" text-anchor="start" textLength="85.1" lengthAdjust="spacing">+DI 11.28</text>
<text transform="translate(278.5 795.8) scale(1.04 1)" font-family="'DejaVu Sans','Liberation Sans',sans-serif" font-size="15" font-weight="normal" fill="#a3244f" stroke="#a3244f" stroke-width="0.3" text-anchor="start" textLength="80.29" lengthAdjust="spacing">-DI 39.95</text>
<text x="1265.8" y="924.1" font-family="'Liberation Sans',Arial,sans-serif" font-size="15.3" font-weight="normal" fill="#000" stroke="#000" stroke-width="0.3" text-anchor="start" textLength="18.6" lengthAdjust="spacingAndGlyphs">20</text>
<text x="1265.8" y="892.8" font-family="'Liberation Sans',Arial,sans-serif" font-size="15.3" font-weight="normal" fill="#000" stroke="#000" stroke-width="0.3" text-anchor="start" textLength="18.6" lengthAdjust="spacingAndGlyphs">30</text>
<text x="1265.8" y="830.2" font-family="'Liberation Sans',Arial,sans-serif" font-size="15.3" font-weight="normal" fill="#000" stroke="#000" stroke-width="0.3" text-anchor="start" textLength="18.6" lengthAdjust="spacingAndGlyphs">50</text>
<text x="1265.8" y="798.9" font-family="'Liberation Sans',Arial,sans-serif" font-size="15.3" font-weight="normal" fill="#000" stroke="#000" stroke-width="0.3" text-anchor="start" textLength="18.6" lengthAdjust="spacingAndGlyphs">60</text>
<text x="1265.8" y="955.4" font-family="'Liberation Sans',Arial,sans-serif" font-size="15.3" font-weight="normal" fill="#000" stroke="#000" stroke-width="0.3" text-anchor="start" textLength="18.6" lengthAdjust="spacingAndGlyphs">10</text>
<path d="M1257.6 612.2L1263.2 604H1335V620.4H1263.2Z" fill="#fff" stroke="#000" stroke-width="1.8" stroke-linejoin="miter"/>
<text x="1264.7" y="617.3" font-family="'Liberation Sans',Arial,sans-serif" font-size="14" font-weight="normal" fill="#000" stroke="#000" stroke-width="0.3" text-anchor="start" textLength="64.5" lengthAdjust="spacingAndGlyphs">4969957</text>
<path d="M1257.6 856.7L1263.2 848.9H1310V864.5H1263.2Z" fill="#fff" stroke="#a3244f" stroke-width="1.8"/>
<text x="1265" y="861.7" font-family="'Liberation Sans',Arial,sans-serif" font-size="14.3" font-weight="normal" fill="#000" stroke="#000" stroke-width="0.3" text-anchor="start" textLength="42" lengthAdjust="spacingAndGlyphs">39.95</text>
<path d="M1257.6 854.4L1263.2 846.6H1310V862.2H1263.2Z" fill="#fff" stroke="#000" stroke-width="1.8"/>
<text x="1265" y="859.4" font-family="'Liberation Sans',Arial,sans-serif" font-size="14.3" font-weight="normal" fill="#000" stroke="#000" stroke-width="0.3" text-anchor="start" textLength="42" lengthAdjust="spacingAndGlyphs">40.42</text>
<path d="M1257.6 945.6L1263.2 937.8H1310V953.4H1263.2Z" fill="#fff" stroke="#1f7a52" stroke-width="1.8"/>
<text x="1265" y="950.6" font-family="'Liberation Sans',Arial,sans-serif" font-size="14.3" font-weight="normal" fill="#000" stroke="#000" stroke-width="0.3" text-anchor="start" textLength="42" lengthAdjust="spacingAndGlyphs">11.28</text>
<text x="39.12" y="979.6" font-family="'Liberation Sans',Arial,sans-serif" font-size="16" font-weight="bold" fill="#000" stroke="#000" stroke-width="0.3" text-anchor="middle" textLength="35.15" lengthAdjust="spacingAndGlyphs">Aug</text>
<text x="92.04" y="979.6" font-family="'Liberation Sans',Arial,sans-serif" font-size="15" font-weight="normal" fill="#000" stroke="#000" stroke-width="0.3" text-anchor="middle" textLength="18.52" lengthAdjust="spacingAndGlyphs">12</text>
<text x="131.13" y="979.6" font-family="'Liberation Sans',Arial,sans-serif" font-size="15" font-weight="normal" fill="#000" stroke="#000" stroke-width="0.3" text-anchor="middle" textLength="18.52" lengthAdjust="spacingAndGlyphs">19</text>
<text x="170.22" y="979.6" font-family="'Liberation Sans',Arial,sans-serif" font-size="15" font-weight="normal" fill="#000" stroke="#000" stroke-width="0.3" text-anchor="middle" textLength="18.52" lengthAdjust="spacingAndGlyphs">26</text>
<text x="211.11" y="979.6" font-family="'Liberation Sans',Arial,sans-serif" font-size="16" font-weight="bold" fill="#000" stroke="#000" stroke-width="0.3" text-anchor="middle" textLength="33.16" lengthAdjust="spacingAndGlyphs">Sep</text>
<text x="240.59" y="979.6" font-family="'Liberation Sans',Arial,sans-serif" font-size="15" font-weight="normal" fill="#000" stroke="#000" stroke-width="0.3" text-anchor="middle" textLength="9.26" lengthAdjust="spacingAndGlyphs">9</text>
<text x="279.68" y="979.6" font-family="'Liberation Sans',Arial,sans-serif" font-size="15" font-weight="normal" fill="#000" stroke="#000" stroke-width="0.3" text-anchor="middle" textLength="18.52" lengthAdjust="spacingAndGlyphs">16</text>
<text x="318.77" y="979.6" font-family="'Liberation Sans',Arial,sans-serif" font-size="15" font-weight="normal" fill="#000" stroke="#000" stroke-width="0.3" text-anchor="middle" textLength="18.52" lengthAdjust="spacingAndGlyphs">23</text>
<text x="367.47" y="979.6" font-family="'Liberation Sans',Arial,sans-serif" font-size="16" font-weight="bold" fill="#000" stroke="#000" stroke-width="0.3" text-anchor="middle" textLength="30.14" lengthAdjust="spacingAndGlyphs">Oct</text>
<text x="396.95" y="979.6" font-family="'Liberation Sans',Arial,sans-serif" font-size="15" font-weight="normal" fill="#000" stroke="#000" stroke-width="0.3" text-anchor="middle" textLength="9.26" lengthAdjust="spacingAndGlyphs">7</text>
<text x="436.04" y="979.6" font-family="'Liberation Sans',Arial,sans-serif" font-size="15" font-weight="normal" fill="#000" stroke="#000" stroke-width="0.3" text-anchor="middle" textLength="18.52" lengthAdjust="spacingAndGlyphs">14</text>
<text x="475.13" y="979.6" font-family="'Liberation Sans',Arial,sans-serif" font-size="15" font-weight="normal" fill="#000" stroke="#000" stroke-width="0.3" text-anchor="middle" textLength="18.52" lengthAdjust="spacingAndGlyphs">21</text>
<text x="514.22" y="979.6" font-family="'Liberation Sans',Arial,sans-serif" font-size="15" font-weight="normal" fill="#000" stroke="#000" stroke-width="0.3" text-anchor="middle" textLength="18.52" lengthAdjust="spacingAndGlyphs">28</text>
<text x="547.29" y="979.6" font-family="'Liberation Sans',Arial,sans-serif" font-size="16" font-weight="bold" fill="#000" stroke="#000" stroke-width="0.3" text-anchor="middle" textLength="34.16" lengthAdjust="spacingAndGlyphs">Nov</text>
<text x="592.4" y="979.6" font-family="'Liberation Sans',Arial,sans-serif" font-size="15" font-weight="normal" fill="#000" stroke="#000" stroke-width="0.3" text-anchor="middle" textLength="17.28" lengthAdjust="spacingAndGlyphs">11</text>
<text x="631.49" y="979.6" font-family="'Liberation Sans',Arial,sans-serif" font-size="15" font-weight="normal" fill="#000" stroke="#000" stroke-width="0.3" text-anchor="middle" textLength="18.52" lengthAdjust="spacingAndGlyphs">18</text>
<text x="670.58" y="979.6" font-family="'Liberation Sans',Arial,sans-serif" font-size="15" font-weight="normal" fill="#000" stroke="#000" stroke-width="0.3" text-anchor="middle" textLength="18.52" lengthAdjust="spacingAndGlyphs">25</text>
<text x="703.65" y="979.6" font-family="'Liberation Sans',Arial,sans-serif" font-size="16" font-weight="bold" fill="#000" stroke="#000" stroke-width="0.3" text-anchor="middle" textLength="33.17" lengthAdjust="spacingAndGlyphs">Dec</text>
<text x="740.94" y="979.6" font-family="'Liberation Sans',Arial,sans-serif" font-size="15" font-weight="normal" fill="#000" stroke="#000" stroke-width="0.3" text-anchor="middle" textLength="9.26" lengthAdjust="spacingAndGlyphs">9</text>
<text x="780.03" y="979.6" font-family="'Liberation Sans',Arial,sans-serif" font-size="15" font-weight="normal" fill="#000" stroke="#000" stroke-width="0.3" text-anchor="middle" textLength="18.52" lengthAdjust="spacingAndGlyphs">16</text>
<text x="819.12" y="979.6" font-family="'Liberation Sans',Arial,sans-serif" font-size="15" font-weight="normal" fill="#000" stroke="#000" stroke-width="0.3" text-anchor="middle" textLength="18.52" lengthAdjust="spacingAndGlyphs">23</text>
<text x="867.83" y="979.6" font-family="'Liberation Sans',Arial,sans-serif" font-size="16" font-weight="bold" fill="#000" stroke="#000" stroke-width="0.3" text-anchor="middle" textLength="40.22" lengthAdjust="spacingAndGlyphs">2020</text>
<text x="920.75" y="979.6" font-family="'Liberation Sans',Arial,sans-serif" font-size="15" font-weight="normal" fill="#000" stroke="#000" stroke-width="0.3" text-anchor="middle" textLength="18.52" lengthAdjust="spacingAndGlyphs">13</text>
<text x="959.84" y="979.6" font-family="'Liberation Sans',Arial,sans-serif" font-size="15" font-weight="normal" fill="#000" stroke="#000" stroke-width="0.3" text-anchor="middle" textLength="18.52" lengthAdjust="spacingAndGlyphs">21</text>
<text x="991.11" y="979.6" font-family="'Liberation Sans',Arial,sans-serif" font-size="15" font-weight="normal" fill="#000" stroke="#000" stroke-width="0.3" text-anchor="middle" textLength="18.52" lengthAdjust="spacingAndGlyphs">27</text>
<text x="1032" y="979.6" font-family="'Liberation Sans',Arial,sans-serif" font-size="16" font-weight="bold" fill="#000" stroke="#000" stroke-width="0.3" text-anchor="middle" textLength="32.14" lengthAdjust="spacingAndGlyphs">Feb</text>
<text x="1069.29" y="979.6" font-family="'Liberation Sans',Arial,sans-serif" font-size="15" font-weight="normal" fill="#000" stroke="#000" stroke-width="0.3" text-anchor="middle" textLength="18.52" lengthAdjust="spacingAndGlyphs">10</text>
<text x="1108.38" y="979.6" font-family="'Liberation Sans',Arial,sans-serif" font-size="15" font-weight="normal" fill="#000" stroke="#000" stroke-width="0.3" text-anchor="middle" textLength="18.52" lengthAdjust="spacingAndGlyphs">18</text>
<text x="1139.66" y="979.6" font-family="'Liberation Sans',Arial,sans-serif" font-size="15" font-weight="normal" fill="#000" stroke="#000" stroke-width="0.3" text-anchor="middle" textLength="18.52" lengthAdjust="spacingAndGlyphs">24</text>
<text x="1180.55" y="979.6" font-family="'Liberation Sans',Arial,sans-serif" font-size="16" font-weight="bold" fill="#000" stroke="#000" stroke-width="0.3" text-anchor="middle" textLength="32.15" lengthAdjust="spacingAndGlyphs">Mar</text>
<text x="1217.84" y="979.6" font-family="'Liberation Sans',Arial,sans-serif" font-size="15" font-weight="normal" fill="#000" stroke="#000" stroke-width="0.3" text-anchor="middle" textLength="9.26" lengthAdjust="spacingAndGlyphs">9</text>
<path d="M1094.8 707.1L1081.3 694H1088.35V680.9H1101.25V694H1108.3Z" fill="#ff0000"/>
<path d="M1104.8 681.8L1091.3 668.7H1098.35V655.6H1111.25V668.7H1118.3Z" fill="#ff0000"/>
<path d="M1116.9 660.9L1103.4 647.8H1110.45V634.7H1123.35V647.8H1130.4Z" fill="#ff0000"/>
<path d="M1122.7 640.4L1109.2 627.3H1116.25V614.2H1129.15V627.3H1136.2Z" fill="#ff0000"/>
<path d="M1133.2 660.9L1119.7 647.8H1126.75V634.7H1139.65V647.8H1146.7Z" fill="#ff0000"/>
<path d="M1145.9 639.3L1132.4 626.2H1139.45V613.1H1152.35V626.2H1159.4Z" fill="#ff0000"/>
<path d="M1162.9 630L1149.4 616.9H1156.45V603.8H1169.35V616.9H1176.4Z" fill="#ff0000"/>
<path d="M1173.1 602.1L1159.6 589H1166.65V575.9H1179.55V589H1186.6Z" fill="#ff0000"/>
<path d="M1187.8 650.9L1174.3 637.8H1181.35V624.7H1194.25V637.8H1201.3Z" fill="#ff0000"/>
<path d="M1202.2 629.3L1188.7 616.2H1195.75V603.1H1208.65V616.2H1215.7Z" fill="#ff0000"/>
<path d="M1212.1 615.6L1198.6 602.5H1205.65V589.4H1218.55V602.5H1225.6Z" fill="#ff0000"/>
<path d="M1220.2 598.1L1206.7 585.8H1213.75V571.6H1226.65V585.8H1233.7Z" fill="#ff0000"/>
<path d="M1242 598.1L1228.5 585.8H1235.55V571.6H1248.45V585.8H1255.5Z" fill="#ff0000"/>
<path d="M325.1 883.4L311.6 870.3H318.65V857.2H331.55V870.3H338.6Z" fill="#ff0000"/>
<path d="M708.9 864.2L695.4 851.1H702.45V838H715.35V851.1H722.4Z" fill="#ff0000"/>
<path d="M989.1 848.4L975.6 835.3H982.65V822.2H995.55V835.3H1002.6Z" fill="#ff0000"/>
<path d="M1014 864.4L1000.5 851.3H1007.55V838.2H1020.45V851.3H1027.5Z" fill="#ff0000"/>
<path d="M1128 878.3L1114.5 865.2H1121.55V852.1H1134.45V865.2H1141.5Z" fill="#ff0000"/>
<path d="M223 917.6L209.5 930.6H216.5V943.8H229.5V930.6H236.5Z" fill="#385723"/>
<path d="M444.3 905.9L430.8 918.9H437.8V932.1H450.8V918.9H457.8Z" fill="#385723"/>
<path d="M717.8 904.6L704.3 917.6H711.3V930.8H724.3V917.6H731.3Z" fill="#385723"/>
<path d="M1000 901.7L986.5 914.7H993.5V927.9H1006.5V914.7H1013.5Z" fill="#385723"/>
<path d="M1044.2 913.6L1030.7 926.6H1037.7V939.8H1050.7V926.6H1057.7Z" fill="#385723"/>
</svg>
</body></html>
